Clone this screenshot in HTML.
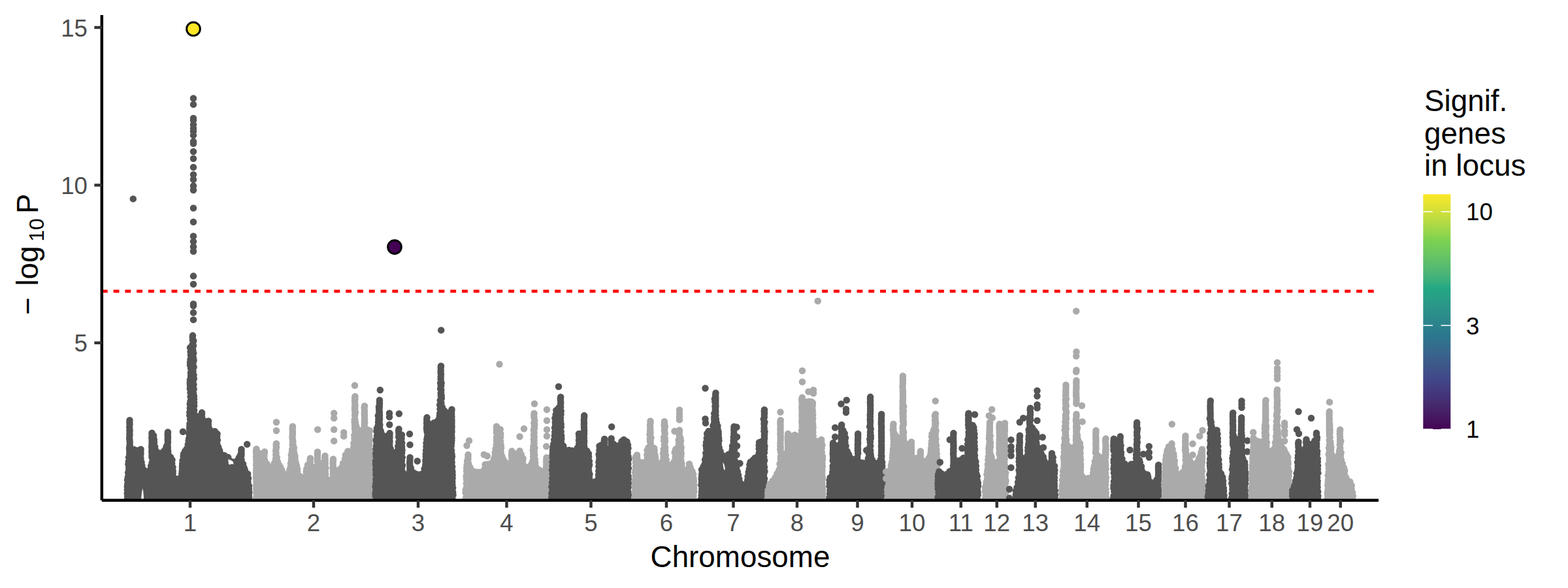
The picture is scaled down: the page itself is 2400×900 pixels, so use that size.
<!DOCTYPE html>
<html><head><meta charset="utf-8"><title>Manhattan plot</title>
<style>html,body{margin:0;padding:0;background:#fff;font-family:"Liberation Sans",sans-serif;}svg{display:block}</style>
</head><body>
<svg width="2400" height="900" viewBox="0 0 2400 900"><clipPath id="pc"><rect x="155.83" y="22.9" width="1954.17" height="742.75"/></clipPath>
<g clip-path="url(#pc)" stroke-linejoin="round" stroke-linecap="round">
<path d="M194.5 773.65L194.5 766.6L195.0 731.6L198.5 676.6L199.0 684.2L200.5 686.5L209.0 689.0L212.5 688.5L215.0 694.1L217.5 714.1L222.0 719.3L225.5 720.2L228.0 719.3L229.5 717.7L230.0 716.6L232.5 701.6L233.5 673.6L234.0 666.2L234.5 665.2L235.0 665.5L237.5 686.6L239.0 688.9L244.5 692.4L248.5 692.0L250.5 690.6L254.5 685.2L255.5 682.6L256.0 682.1L256.5 687.6L258.5 695.6L260.0 698.7L263.5 702.2L264.0 704.4L266.0 726.4L266.5 729.1L268.0 731.4L271.0 732.7L275.0 732.4L277.0 730.9L278.0 729.1L280.0 696.7L288.5 677.3L290.0 646.6L290.5 613.3L291.0 530.0L294.5 524.7L295.0 523.6L295.5 519.6L296.5 532.3L297.0 601.6L297.5 633.2L299.0 635.5L302.0 636.8L305.0 636.2L308.5 633.7L309.0 634.3L310.0 641.6L311.5 643.9L314.5 645.2L319.0 644.0L319.5 644.8L320.0 655.6L321.5 657.9L324.5 659.2L327.5 659.0L331.0 661.7L333.0 664.2L333.5 678.6L334.0 682.1L336.0 686.2L337.5 692.9L339.0 695.2L348.0 697.6L351.0 700.0L353.5 704.7L356.5 706.4L359.5 706.1L366.5 699.7L367.5 697.9L368.5 694.9L372.5 711.6L380.0 726.7L381.0 738.6L382.0 766.6L382.0 773.65ZM198.5 643.2L198.5 676.6M215.5 687.8L215.5 698.1M232.5 662.8L232.5 701.6M257.0 661.5L257.0 689.6M295.0 513.6L295.0 523.6M309.0 631.6L309.0 634.3M369.5 687.8L369.5 699.1" fill="#555555" stroke="#555555" stroke-width="4.5"/>
<path d="M194.3 765.6h.01M195.2 763.5h.01M195.1 759.8h.01M194.7 755.0h.01M194.8 749.7h.01M194.8 744.7h.01M195.2 740.9h.01M195.0 734.5h.01M195.8 730.3h.01M196.1 723.4h.01M197.2 718.6h.01M197.2 714.9h.01M196.4 710.4h.01M196.8 706.5h.01M197.1 700.1h.01M198.1 694.6h.01M198.2 689.8h.01M197.9 686.1h.01M198.9 681.9h.01M198.7 676.9h.01M198.4 681.9h.01M199.1 686.8h.01M205.6 688.3h.01M211.2 689.6h.01M213.6 693.7h.01M214.1 697.8h.01M215.5 701.5h.01M216.6 707.6h.01M217.3 712.8h.01M219.4 718.4h.01M224.5 722.0h.01M229.8 719.1h.01M231.2 713.2h.01M232.6 708.2h.01M232.9 701.3h.01M232.7 695.5h.01M233.6 689.6h.01M234.2 682.6h.01M233.7 678.1h.01M233.6 672.2h.01M234.0 667.1h.01M235.1 666.8h.01M235.8 672.9h.01M236.0 677.3h.01M237.1 683.8h.01M238.0 688.9h.01M243.2 693.5h.01M250.3 691.1h.01M253.5 687.2h.01M254.8 683.2h.01M256.3 687.1h.01M257.2 691.3h.01M258.1 696.6h.01M261.2 699.9h.01M263.5 703.9h.01M263.2 709.4h.01M264.5 715.2h.01M264.7 720.9h.01M264.6 724.6h.01M266.1 731.3h.01M272.9 733.1h.01M277.2 730.7h.01M278.3 725.2h.01M278.6 721.5h.01M279.0 717.4h.01M278.9 713.7h.01M279.2 709.7h.01M279.5 704.9h.01M280.6 698.4h.01M281.1 694.7h.01M283.2 690.4h.01M285.6 687.2h.01M287.7 680.5h.01M288.6 675.3h.01M289.1 671.5h.01M290.0 667.1h.01M289.2 663.0h.01M290.1 656.2h.01M290.3 652.2h.01M290.4 648.6h.01M291.1 641.7h.01M290.3 635.7h.01M290.3 630.9h.01M290.8 624.8h.01M290.7 618.5h.01M291.4 614.3h.01M291.6 607.3h.01M291.5 601.0h.01M290.8 594.9h.01M290.9 589.6h.01M290.7 586.0h.01M290.9 581.5h.01M291.9 575.6h.01M291.9 570.5h.01M292.0 563.5h.01M291.0 558.8h.01M291.0 554.5h.01M291.5 550.3h.01M291.9 543.6h.01M291.6 538.4h.01M291.0 532.1h.01M294.4 527.8h.01M296.2 521.4h.01M295.7 523.1h.01M296.0 529.3h.01M295.3 535.6h.01M296.2 540.5h.01M295.8 547.3h.01M296.6 551.4h.01M295.5 555.5h.01M296.6 561.8h.01M295.5 568.2h.01M296.5 574.0h.01M296.8 579.4h.01M295.6 582.9h.01M296.4 588.7h.01M296.6 595.5h.01M296.0 602.0h.01M296.9 606.3h.01M297.0 610.8h.01M297.1 616.3h.01M297.2 621.3h.01M297.1 628.0h.01M296.9 633.1h.01M302.6 637.4h.01M308.9 634.4h.01M309.1 638.8h.01M309.9 642.5h.01M313.4 644.7h.01M319.1 644.4h.01M318.9 649.4h.01M319.7 654.8h.01M322.8 659.5h.01M328.8 660.2h.01M332.6 664.1h.01M332.2 668.3h.01M332.8 673.6h.01M332.4 679.9h.01M334.4 684.8h.01M336.2 689.6h.01M338.3 695.2h.01M343.7 697.2h.01M349.2 700.1h.01M352.0 705.4h.01M357.5 707.3h.01M364.0 704.1h.01M365.9 700.3h.01M368.2 695.9h.01M369.2 698.1h.01M369.6 704.0h.01M372.1 710.2h.01M373.7 716.1h.01M375.0 719.9h.01M379.2 725.5h.01M380.1 732.1h.01M379.5 737.4h.01M381.1 743.7h.01M380.9 748.7h.01M381.4 753.4h.01M380.9 758.0h.01M381.3 761.6h.01M382.0 766.6h.01M198.5 643.2h.01M198.3 645.8h.01M198.5 649.0h.01M198.2 653.5h.01M198.5 657.9h.01M198.5 660.6h.01M198.4 664.5h.01M198.4 666.9h.01M198.1 671.1h.01M198.5 673.8h.01M215.5 687.8h.01M215.3 690.2h.01M215.5 694.0h.01M215.2 696.1h.01M232.5 662.8h.01M232.5 665.2h.01M232.2 669.6h.01M232.5 673.6h.01M232.5 677.7h.01M232.3 681.9h.01M232.3 684.7h.01M232.4 689.1h.01M232.3 691.4h.01M232.5 694.0h.01M232.5 696.4h.01M232.4 698.9h.01M257.0 661.5h.01M256.7 664.0h.01M256.8 666.7h.01M256.9 669.2h.01M256.9 671.2h.01M256.7 673.3h.01M257.0 676.6h.01M256.5 679.8h.01M256.6 682.1h.01M256.8 685.2h.01M256.9 689.3h.01M295.0 513.6h.01M294.7 516.1h.01M294.9 520.6h.01M309.0 631.6h.01M308.7 634.1h.01M369.5 687.8h.01M369.4 690.2h.01M369.5 693.1h.01M369.5 695.4h.01M280.0 660.8h.01M378.2 680.0h.01M203.8 304.4h.01M296.0 150.5h.01M296.0 159.9h.01M296.0 180.9h.01M296.0 184.1h.01M296.0 190.7h.01M296.0 196.5h.01M296.0 201.2h.01M296.0 207.0h.01M296.0 216.8h.01M296.0 219.8h.01M296.0 232.0h.01M296.0 242.7h.01M296.0 256.0h.01M296.0 267.2h.01M296.0 274.7h.01M296.0 284.5h.01M296.0 291.0h.01M296.0 318.5h.01M296.0 339.8h.01M296.0 361.5h.01M296.0 369.7h.01M296.0 377.8h.01M296.0 384.8h.01M296.0 422.6h.01M296.0 435.0h.01M296.0 465.3h.01M296.0 468.1h.01M296.0 478.6h.01M296.0 489.4h.01" fill="none" stroke="#555555" stroke-width="10.5"/>
<path d="M392.5 773.65L392.5 766.6L393.0 721.6L393.5 698.3L394.0 691.4L398.0 694.9L401.5 695.0L404.0 693.6L405.0 694.7L406.0 704.1L406.5 706.8L408.0 709.1L413.5 712.5L416.5 712.5L418.5 711.4L419.5 710.2L420.0 709.1L422.5 686.6L423.0 686.1L424.0 697.9L426.5 709.6L433.5 723.4L436.5 725.2L439.5 724.9L441.5 723.4L442.5 721.6L445.0 706.6L446.5 685.1L448.5 673.1L451.5 697.8L457.5 726.6L459.0 728.9L462.0 730.2L465.0 729.6L466.5 728.4L467.5 726.6L470.0 712.4L474.5 707.7L475.0 706.7L475.5 707.1L476.0 710.1L477.5 712.4L480.5 713.7L483.5 713.1L485.0 711.9L486.0 710.1L486.5 707.6L487.0 706.7L489.5 708.9L493.0 709.0L495.0 707.9L496.0 706.7L497.5 701.6L499.0 723.0L500.5 731.6L502.0 733.9L505.0 735.2L508.0 734.6L509.5 733.4L510.5 731.6L511.0 723.3L511.5 718.9L514.5 720.2L517.5 719.6L522.5 716.1L523.5 714.3L528.5 694.9L531.5 688.9L534.5 690.2L537.5 689.6L539.0 688.4L540.0 686.6L542.0 671.6L543.0 621.6L544.5 646.6L546.0 655.2L547.5 657.5L550.5 658.8L554.0 658.2L555.5 657.0L556.5 655.2L558.0 646.6L558.5 646.1L559.0 651.8L560.5 654.1L564.0 656.6L566.0 659.2L566.5 694.9L567.0 766.6L567.0 773.65ZM392.5 687.2L392.5 766.6M405.0 691.5L405.0 694.7M423.0 679.0L423.0 686.1M448.0 652.8L448.0 676.1M475.0 701.5L475.0 706.7M486.0 691.8L486.0 710.1M497.5 697.8L497.5 701.6M510.0 702.8L510.0 732.7M543.5 606.8L543.5 629.1M558.0 621.5L558.0 646.6" fill="#AAAAAA" stroke="#AAAAAA" stroke-width="4.5"/>
<path d="M392.3 765.6h.01M392.6 763.5h.01M393.7 757.0h.01M392.9 751.2h.01M392.9 746.8h.01M392.9 741.7h.01M393.0 736.7h.01M394.2 729.8h.01M393.1 724.4h.01M393.3 717.5h.01M393.2 712.8h.01M393.7 707.9h.01M393.5 702.7h.01M393.6 697.4h.01M393.9 693.0h.01M396.5 693.6h.01M399.6 695.3h.01M404.1 694.7h.01M404.4 698.1h.01M405.1 703.9h.01M408.4 710.0h.01M411.4 713.8h.01M416.5 714.0h.01M420.1 708.5h.01M422.0 702.2h.01M422.3 696.5h.01M422.2 690.1h.01M422.6 687.2h.01M422.6 693.7h.01M423.8 700.1h.01M425.0 706.6h.01M427.5 712.1h.01M429.3 715.2h.01M431.4 719.5h.01M434.7 725.2h.01M441.1 725.0h.01M443.4 719.2h.01M444.5 715.8h.01M445.0 709.7h.01M445.9 704.3h.01M446.3 700.6h.01M445.8 696.2h.01M446.9 691.8h.01M447.2 687.6h.01M447.7 680.8h.01M448.5 676.0h.01M447.9 676.2h.01M448.8 681.8h.01M449.9 685.5h.01M449.6 689.9h.01M450.5 694.4h.01M451.5 697.9h.01M451.6 702.4h.01M452.8 708.2h.01M454.0 712.6h.01M455.1 717.6h.01M455.1 721.6h.01M455.8 725.7h.01M461.6 730.0h.01M467.2 729.9h.01M468.7 722.3h.01M469.2 717.9h.01M471.0 711.6h.01M474.7 707.5h.01M475.0 711.8h.01M478.7 714.8h.01M485.4 713.9h.01M486.9 707.3h.01M492.2 709.8h.01M495.4 707.5h.01M497.7 702.8h.01M497.7 705.0h.01M497.8 709.7h.01M498.5 716.2h.01M497.9 722.3h.01M498.2 726.4h.01M499.4 732.9h.01M503.8 735.3h.01M509.9 735.8h.01M510.9 729.3h.01M511.1 724.3h.01M511.3 720.7h.01M515.9 720.3h.01M521.8 716.9h.01M524.4 713.1h.01M525.2 709.0h.01M527.9 702.6h.01M528.9 696.4h.01M532.4 690.8h.01M535.6 691.5h.01M539.5 689.7h.01M541.3 684.2h.01M541.3 678.4h.01M542.9 674.9h.01M542.4 670.8h.01M542.3 666.1h.01M543.5 660.0h.01M543.0 655.6h.01M543.0 651.1h.01M542.6 646.2h.01M542.7 642.1h.01M543.2 635.5h.01M543.9 631.2h.01M543.3 624.2h.01M543.0 623.0h.01M543.0 626.8h.01M543.4 630.6h.01M543.2 635.1h.01M543.3 641.7h.01M544.1 646.6h.01M545.1 651.9h.01M546.7 656.2h.01M549.3 660.7h.01M554.6 658.7h.01M558.0 653.6h.01M557.8 649.2h.01M558.2 647.1h.01M557.7 653.1h.01M562.8 657.9h.01M566.0 659.3h.01M565.0 665.3h.01M565.6 670.4h.01M565.9 673.9h.01M565.3 680.7h.01M565.1 687.2h.01M566.4 691.5h.01M566.0 695.6h.01M565.4 701.5h.01M565.9 707.5h.01M566.2 713.7h.01M566.7 719.1h.01M566.6 725.3h.01M566.1 732.1h.01M566.7 736.6h.01M566.2 741.0h.01M566.8 746.9h.01M566.4 750.7h.01M566.6 756.2h.01M566.3 760.5h.01M566.8 764.0h.01M392.5 687.2h.01M392.0 689.8h.01M392.1 693.4h.01M392.4 696.5h.01M392.0 699.2h.01M392.4 702.9h.01M392.3 705.0h.01M392.4 708.7h.01M392.2 711.3h.01M392.4 715.6h.01M392.4 717.7h.01M392.2 720.8h.01M392.1 723.3h.01M392.3 727.1h.01M392.0 729.6h.01M392.1 732.4h.01M392.4 735.0h.01M392.4 738.9h.01M392.3 743.3h.01M392.4 745.7h.01M392.2 748.8h.01M392.5 753.1h.01M392.5 756.1h.01M392.5 760.6h.01M392.5 762.7h.01M392.1 765.7h.01M405.0 691.5h.01M404.7 694.0h.01M423.0 679.0h.01M422.6 681.5h.01M423.0 684.3h.01M448.0 652.8h.01M447.7 655.2h.01M447.7 657.3h.01M447.9 660.3h.01M448.0 663.1h.01M447.9 665.1h.01M447.5 668.0h.01M447.5 670.3h.01M447.9 672.8h.01M475.0 701.5h.01M474.6 704.0h.01M486.0 691.8h.01M486.0 694.2h.01M485.9 697.4h.01M486.0 701.7h.01M485.6 704.6h.01M485.9 706.7h.01M497.5 697.8h.01M497.2 700.2h.01M510.0 702.8h.01M510.0 705.2h.01M509.6 707.4h.01M509.7 710.0h.01M509.9 714.3h.01M509.5 717.0h.01M509.9 720.5h.01M509.9 724.3h.01M510.0 727.0h.01M509.6 730.9h.01M543.5 606.8h.01M543.0 609.2h.01M543.4 611.3h.01M543.0 614.5h.01M543.4 618.9h.01M543.4 621.5h.01M543.1 624.7h.01M543.1 627.2h.01M558.0 621.5h.01M557.6 624.0h.01M557.8 627.9h.01M557.9 630.8h.01M557.7 633.7h.01M558.0 635.9h.01M557.9 639.7h.01M558.0 641.9h.01M557.9 645.3h.01M423.0 646.2h.01M423.0 659.2h.01M486.2 657.5h.01M511.2 632.5h.01M511.2 640.0h.01M511.2 657.5h.01M511.2 675.0h.01M526.2 662.0h.01M526.2 667.5h.01M543.0 590.0h.01" fill="none" stroke="#AAAAAA" stroke-width="10.5"/>
<path d="M574.5 773.65L574.5 741.6L575.0 676.6L580.0 621.6L581.5 648.7L583.0 661.6L584.5 663.9L590.0 667.5L594.5 667.5L595.0 667.4L595.5 671.1L596.5 682.4L599.0 689.5L601.5 691.6L605.0 691.8L607.0 690.7L608.0 689.5L609.0 686.4L611.0 664.4L611.5 663.9L614.5 665.2L615.0 665.2L616.0 710.1L616.5 721.6L618.0 723.9L621.0 725.2L624.5 724.9L626.5 723.4L627.5 721.6L628.0 713.6L629.5 718.0L634.5 724.3L643.0 726.5L645.5 725.6L647.0 724.0L650.0 716.6L654.5 646.6L658.0 648.6L661.0 648.3L663.0 646.8L664.5 644.9L667.5 644.9L669.5 643.8L670.5 642.6L671.0 641.5L671.5 638.7L673.0 621.6L674.5 584.1L675.0 584.1L676.0 614.1L676.5 622.1L679.5 627.9L682.0 629.9L688.0 631.5L690.0 630.9L693.5 757.6L693.5 773.65ZM581.0 612.5L581.0 640.6M596.5 663.1L596.5 682.4M610.5 656.8L610.5 669.9M627.5 700.2L627.5 721.6M653.5 639.1L653.5 659.1M675.0 560.2L675.0 584.1M691.5 626.8L691.5 681.6" fill="#555555" stroke="#555555" stroke-width="4.5"/>
<path d="M575.6 765.6h.01M574.7 758.7h.01M574.5 754.9h.01M575.3 749.7h.01M574.6 744.6h.01M575.2 739.6h.01M575.4 733.8h.01M575.3 727.3h.01M575.6 723.4h.01M575.2 718.9h.01M575.5 714.1h.01M574.9 709.9h.01M574.9 705.5h.01M575.4 698.9h.01M575.2 694.3h.01M575.4 687.3h.01M575.9 683.0h.01M576.3 677.2h.01M575.8 673.4h.01M576.9 667.1h.01M576.5 660.3h.01M576.9 655.8h.01M578.6 651.8h.01M579.0 646.3h.01M579.3 641.5h.01M578.8 636.3h.01M580.5 630.2h.01M580.2 626.3h.01M579.9 622.6h.01M580.2 627.4h.01M580.4 631.6h.01M580.1 637.2h.01M581.1 641.4h.01M580.6 646.0h.01M581.4 650.2h.01M581.1 654.4h.01M582.8 659.7h.01M583.7 663.5h.01M587.7 667.4h.01M591.8 667.7h.01M595.0 670.1h.01M595.6 674.6h.01M596.2 681.4h.01M597.7 686.7h.01M599.3 692.0h.01M607.1 691.2h.01M609.7 687.5h.01M609.3 683.0h.01M610.3 676.4h.01M610.8 670.0h.01M611.4 664.7h.01M615.0 665.8h.01M614.5 671.2h.01M615.2 677.9h.01M615.1 683.6h.01M615.5 688.8h.01M615.1 693.3h.01M615.7 700.1h.01M614.9 705.3h.01M616.0 712.2h.01M615.0 716.2h.01M616.7 723.1h.01M619.3 726.7h.01M625.9 726.1h.01M628.6 720.1h.01M628.8 716.1h.01M628.2 715.5h.01M630.6 721.8h.01M634.2 724.3h.01M638.8 726.3h.01M643.7 726.3h.01M648.1 724.1h.01M649.6 717.6h.01M651.2 712.3h.01M651.6 708.6h.01M651.4 704.7h.01M651.8 699.3h.01M651.8 694.7h.01M652.1 689.2h.01M652.5 683.4h.01M652.5 678.3h.01M653.3 672.7h.01M654.0 668.4h.01M653.9 662.2h.01M654.2 658.1h.01M654.1 654.2h.01M654.4 649.2h.01M656.2 648.5h.01M660.2 649.6h.01M664.2 647.3h.01M669.0 645.1h.01M671.5 641.9h.01M672.9 637.0h.01M673.1 633.0h.01M673.5 626.1h.01M673.2 619.7h.01M673.8 612.7h.01M674.8 605.9h.01M674.7 601.8h.01M674.1 595.1h.01M675.1 590.4h.01M675.6 586.3h.01M674.1 585.9h.01M674.7 589.9h.01M675.3 596.6h.01M675.1 601.0h.01M675.7 605.6h.01M675.8 609.8h.01M675.4 616.6h.01M676.9 623.1h.01M680.0 628.5h.01M684.5 631.8h.01M690.0 632.9h.01M689.5 635.7h.01M690.3 642.3h.01M689.8 649.3h.01M689.7 654.2h.01M689.5 658.6h.01M690.6 664.1h.01M690.7 670.3h.01M690.3 674.4h.01M690.3 678.1h.01M690.7 682.4h.01M691.0 689.4h.01M691.5 695.2h.01M691.9 698.7h.01M691.3 702.7h.01M691.6 707.7h.01M692.2 714.3h.01M691.7 718.7h.01M692.5 722.2h.01M692.6 727.0h.01M692.6 731.7h.01M692.3 737.3h.01M692.4 741.5h.01M693.1 746.6h.01M693.2 753.4h.01M693.5 757.4h.01M692.4 763.2h.01M581.0 612.5h.01M580.9 615.0h.01M581.0 617.6h.01M580.8 621.2h.01M580.7 624.1h.01M580.5 627.2h.01M580.9 631.0h.01M581.0 635.3h.01M580.9 638.6h.01M596.5 663.1h.01M596.5 665.6h.01M596.5 669.5h.01M596.0 672.9h.01M596.5 675.3h.01M596.3 678.8h.01M610.5 656.8h.01M610.1 659.3h.01M610.4 661.7h.01M610.5 664.5h.01M610.2 668.7h.01M627.5 700.2h.01M627.5 702.8h.01M627.2 706.9h.01M627.2 710.0h.01M627.4 713.2h.01M627.4 715.4h.01M627.4 717.5h.01M627.2 721.4h.01M653.5 639.1h.01M653.2 641.6h.01M653.3 644.3h.01M653.1 647.4h.01M653.4 650.7h.01M653.0 654.3h.01M653.1 656.8h.01M653.4 658.9h.01M675.0 560.2h.01M674.7 562.8h.01M674.7 567.1h.01M674.6 569.9h.01M674.9 572.8h.01M674.7 577.0h.01M674.7 580.8h.01M691.5 626.8h.01M691.3 629.2h.01M691.2 633.3h.01M691.4 637.5h.01M691.3 641.3h.01M691.5 644.1h.01M691.5 647.6h.01M691.5 651.9h.01M691.5 654.0h.01M691.4 658.3h.01M691.5 660.7h.01M691.2 662.8h.01M691.2 666.3h.01M691.5 670.2h.01M691.4 673.7h.01M691.1 677.7h.01M596.0 632.5h.01M596.0 638.3h.01M596.2 650.0h.01M581.8 597.0h.01M610.8 633.2h.01M627.0 664.2h.01M627.5 680.8h.01M638.8 705.8h.01M675.2 505.4h.01" fill="none" stroke="#555555" stroke-width="10.5"/>
<path d="M712.0 773.65L712.0 766.6L714.0 717.7L715.5 694.3L716.0 694.7L716.5 697.6L717.5 711.6L725.5 721.4L729.0 722.6L732.5 721.3L736.0 722.6L739.0 721.6L740.5 720.0L741.5 717.1L742.5 710.5L750.5 709.9L753.0 707.9L756.0 702.1L758.5 688.1L760.5 654.8L761.0 654.2L761.5 654.1L764.5 655.7L766.0 657.2L766.5 664.6L767.5 696.6L771.5 702.4L774.0 709.5L776.5 711.6L780.0 711.8L782.0 710.7L783.0 709.5L783.5 708.4L784.0 705.6L785.0 694.6L788.5 695.2L794.0 692.0L800.0 697.8L802.5 711.6L804.0 713.9L807.0 715.2L810.0 714.6L811.5 713.4L815.0 706.6L817.5 643.0L819.0 707.3L823.0 717.7L825.5 719.9L832.5 720.0L833.5 719.6L834.0 732.9L834.0 773.65ZM760.0 652.8L760.0 663.4M783.5 690.6L783.5 708.4M795.5 690.2L795.5 694.0M817.5 632.8L817.5 643.0M836.5 700.5L836.5 765.6" fill="#AAAAAA" stroke="#AAAAAA" stroke-width="4.5"/>
<path d="M712.0 765.6h.01M713.4 761.1h.01M712.6 754.2h.01M712.7 750.0h.01M713.9 746.4h.01M713.8 740.1h.01M714.0 733.7h.01M713.6 729.2h.01M714.6 725.4h.01M714.1 721.1h.01M714.1 716.1h.01M714.6 711.8h.01M715.1 705.8h.01M716.4 701.2h.01M716.5 696.0h.01M716.5 698.0h.01M716.5 703.0h.01M717.0 709.2h.01M719.1 714.8h.01M721.2 718.6h.01M723.7 721.5h.01M728.4 722.4h.01M732.8 722.8h.01M738.9 721.7h.01M742.0 717.5h.01M742.5 711.1h.01M747.1 710.6h.01M753.0 708.2h.01M756.2 702.1h.01M757.6 698.0h.01M757.7 692.7h.01M758.6 687.0h.01M759.7 680.8h.01M760.0 674.6h.01M759.9 669.8h.01M761.0 665.0h.01M761.3 661.2h.01M760.5 657.6h.01M761.0 656.0h.01M765.7 657.3h.01M766.3 663.9h.01M766.1 669.0h.01M766.0 675.2h.01M766.7 680.9h.01M767.1 685.5h.01M766.6 692.0h.01M768.2 697.9h.01M770.1 702.7h.01M773.1 707.1h.01M774.8 712.5h.01M780.2 711.9h.01M784.3 709.1h.01M784.4 702.3h.01M784.8 698.3h.01M785.8 695.7h.01M790.0 694.8h.01M794.5 694.2h.01M797.8 695.8h.01M800.6 701.6h.01M800.1 706.6h.01M802.0 713.1h.01M806.9 715.4h.01M811.9 712.8h.01M814.1 709.2h.01M815.4 705.7h.01M816.1 699.5h.01M816.2 694.2h.01M815.8 689.1h.01M816.3 683.5h.01M817.3 677.4h.01M816.9 672.4h.01M817.0 666.3h.01M817.6 662.0h.01M817.9 655.4h.01M818.3 649.5h.01M818.2 643.6h.01M817.4 647.6h.01M817.7 653.3h.01M816.9 658.3h.01M817.3 664.2h.01M817.7 668.6h.01M817.6 673.7h.01M817.6 678.6h.01M818.4 685.4h.01M817.7 691.2h.01M818.3 696.0h.01M818.9 702.9h.01M819.3 708.3h.01M820.2 714.6h.01M824.1 718.7h.01M829.1 720.9h.01M833.1 721.2h.01M832.8 727.0h.01M833.6 732.3h.01M833.9 739.1h.01M833.7 745.0h.01M833.9 751.1h.01M833.7 758.1h.01M833.8 761.8h.01M760.0 652.8h.01M760.0 655.2h.01M759.9 658.3h.01M759.9 662.0h.01M783.5 690.6h.01M783.4 693.1h.01M783.0 696.9h.01M783.4 700.3h.01M783.4 704.3h.01M783.5 706.8h.01M795.5 690.2h.01M795.1 692.8h.01M817.5 632.8h.01M817.3 635.2h.01M817.4 638.7h.01M836.5 700.5h.01M836.4 703.0h.01M836.1 706.6h.01M836.3 710.6h.01M836.3 713.4h.01M836.1 715.7h.01M836.1 718.6h.01M836.4 721.2h.01M836.4 723.9h.01M836.5 726.3h.01M836.4 730.1h.01M836.4 732.8h.01M836.4 736.0h.01M836.2 739.5h.01M836.1 742.5h.01M836.5 746.6h.01M836.1 750.7h.01M836.5 754.6h.01M836.2 758.7h.01M836.5 760.7h.01M836.2 765.1h.01M714.5 682.0h.01M718.0 674.5h.01M740.8 695.8h.01M745.8 698.0h.01M764.5 557.5h.01M802.0 656.2h.01M795.5 668.2h.01M818.0 618.0h.01M837.0 627.0h.01M837.0 643.8h.01M837.0 657.5h.01M837.0 667.5h.01M836.2 683.2h.01" fill="none" stroke="#AAAAAA" stroke-width="10.5"/>
<path d="M844.2 773.65L844.2 751.6L845.7 688.6L846.2 680.7L848.2 675.4L849.2 643.3L850.2 631.0L851.7 625.5L852.2 624.6L855.2 623.1L856.2 621.9L856.7 620.8L857.7 612.4L858.2 610.4L858.7 621.6L859.7 677.2L862.7 683.4L867.2 688.5L877.7 690.2L880.2 688.9L884.2 683.2L884.7 682.1L885.2 677.3L885.7 664.3L886.2 662.6L889.7 663.6L892.2 662.6L893.7 661.0L894.2 684.9L899.2 690.8L901.7 695.2L902.7 731.7L904.2 734.0L908.7 736.6L912.2 736.3L914.2 734.9L915.7 732.9L916.2 731.8L916.7 682.7L924.7 676.8L925.7 684.9L927.2 687.2L930.2 688.6L933.7 688.2L935.7 686.7L936.7 684.9L937.2 677.7L939.7 679.9L945.7 681.8L948.7 680.9L950.2 679.3L950.7 678.2L951.7 672.8L956.2 672.8L959.7 675.6L961.7 679.9L962.2 702.9L962.2 773.65ZM858.2 607.8L858.2 610.4M894.2 636.1L894.2 684.9M925.2 672.0L925.2 681.4M935.7 671.2L935.7 686.7" fill="#555555" stroke="#555555" stroke-width="4.5"/>
<path d="M844.2 765.6h.01M844.3 761.7h.01M844.4 755.4h.01M845.3 751.4h.01M844.4 745.1h.01M845.1 738.5h.01M845.4 732.3h.01M845.7 725.7h.01M845.1 719.2h.01M845.6 713.3h.01M845.6 707.2h.01M845.9 700.6h.01M845.6 696.2h.01M846.0 692.2h.01M846.1 688.5h.01M846.4 684.5h.01M847.3 679.6h.01M848.2 673.1h.01M848.9 666.7h.01M849.3 661.2h.01M849.1 654.8h.01M850.2 649.8h.01M849.8 646.1h.01M849.4 640.3h.01M850.6 634.8h.01M851.3 628.1h.01M855.4 623.9h.01M858.1 618.6h.01M858.2 615.0h.01M857.9 611.4h.01M858.2 617.9h.01M858.2 623.1h.01M858.7 629.3h.01M858.5 634.3h.01M858.0 639.8h.01M858.1 644.3h.01M858.7 649.2h.01M858.8 653.6h.01M858.7 660.6h.01M859.2 666.8h.01M859.3 671.4h.01M859.0 677.0h.01M862.3 682.6h.01M864.8 688.4h.01M870.9 689.1h.01M875.4 689.8h.01M880.2 691.1h.01M883.7 685.7h.01M886.2 679.5h.01M886.0 673.7h.01M886.3 668.0h.01M886.0 664.0h.01M890.8 664.5h.01M892.8 662.1h.01M893.7 665.9h.01M892.9 669.6h.01M893.3 676.2h.01M893.1 681.0h.01M895.0 687.3h.01M898.3 690.3h.01M900.9 694.4h.01M901.1 699.2h.01M901.9 705.9h.01M902.1 711.4h.01M901.2 715.3h.01M901.2 720.9h.01M902.5 725.9h.01M902.0 730.8h.01M905.7 737.4h.01M911.7 737.0h.01M915.5 734.8h.01M916.3 730.3h.01M916.2 726.8h.01M916.3 720.9h.01M916.4 714.0h.01M916.5 707.5h.01M917.3 703.9h.01M917.3 699.6h.01M916.6 695.4h.01M917.4 689.2h.01M917.5 682.7h.01M920.4 681.3h.01M925.0 677.5h.01M925.3 683.4h.01M929.0 689.6h.01M933.0 688.3h.01M937.7 684.4h.01M937.2 680.6h.01M939.5 679.9h.01M945.9 682.6h.01M949.4 680.8h.01M951.6 675.6h.01M954.8 672.9h.01M959.5 676.1h.01M961.0 681.3h.01M961.5 686.3h.01M960.7 692.5h.01M961.5 698.8h.01M962.1 703.3h.01M961.4 710.2h.01M961.9 716.6h.01M960.9 722.2h.01M961.6 728.6h.01M961.8 733.2h.01M961.9 739.8h.01M961.6 745.7h.01M961.2 752.3h.01M962.2 756.8h.01M961.8 761.2h.01M858.2 607.8h.01M857.8 610.3h.01M894.2 636.1h.01M894.2 638.6h.01M893.8 642.7h.01M894.0 646.8h.01M893.8 649.5h.01M893.9 653.5h.01M894.1 657.8h.01M894.0 660.0h.01M894.1 664.0h.01M893.7 667.9h.01M893.9 670.5h.01M894.0 674.2h.01M894.1 676.7h.01M893.8 680.6h.01M894.2 683.7h.01M925.2 672.0h.01M924.8 674.5h.01M924.9 677.1h.01M924.8 681.3h.01M935.7 671.2h.01M935.5 673.7h.01M935.6 677.2h.01M935.6 679.6h.01M935.6 683.4h.01M855.0 591.8h.01M936.2 653.2h.01" fill="none" stroke="#555555" stroke-width="10.5"/>
<path d="M971.0 773.65L971.0 766.6L972.0 701.6L973.0 698.4L977.5 706.0L981.0 707.9L987.5 706.3L989.0 705.1L990.0 703.3L990.5 687.8L991.0 684.9L994.0 682.8L995.0 681.0L995.5 659.8L996.0 680.6L997.5 682.9L1002.0 686.6L1002.5 688.3L1004.5 706.3L1006.0 708.6L1009.0 709.9L1012.0 709.3L1013.5 708.1L1014.5 706.3L1016.0 677.4L1017.0 649.0L1017.5 652.1L1018.5 693.3L1020.0 704.9L1021.5 709.0L1024.0 711.2L1027.5 711.4L1029.5 710.2L1030.5 709.0L1031.5 706.7L1032.0 704.7L1033.0 687.4L1033.5 686.0L1036.0 684.6L1037.0 683.4L1037.5 682.3L1038.0 679.4L1039.5 663.4L1040.0 663.8L1041.5 666.4L1042.0 669.0L1043.5 709.3L1044.5 714.7L1046.0 717.0L1049.0 718.3L1052.0 717.7L1053.5 716.5L1054.5 714.7L1055.0 712.7L1055.5 712.0L1060.5 719.6L1062.5 738.3L1062.5 773.65ZM975.0 696.5L975.0 701.7M995.5 644.4L995.5 659.8M1017.0 645.3L1017.0 649.0M1040.0 658.4L1040.0 663.8M1055.0 710.2L1055.0 712.7" fill="#AAAAAA" stroke="#AAAAAA" stroke-width="4.5"/>
<path d="M970.7 765.6h.01M971.1 762.2h.01M972.4 758.6h.01M971.2 753.8h.01M972.2 748.1h.01M972.0 744.0h.01M971.9 739.3h.01M971.5 735.7h.01M972.6 728.8h.01M972.2 723.6h.01M972.6 719.2h.01M973.0 714.2h.01M972.9 708.0h.01M972.3 701.2h.01M973.2 699.1h.01M975.5 702.6h.01M976.7 706.2h.01M983.4 708.0h.01M990.7 705.4h.01M990.7 701.1h.01M990.3 696.2h.01M990.6 689.3h.01M992.4 685.3h.01M995.8 678.9h.01M995.6 674.0h.01M996.5 670.0h.01M995.6 663.0h.01M995.3 660.2h.01M994.5 665.0h.01M994.8 671.6h.01M994.9 675.3h.01M995.5 681.7h.01M1001.2 686.0h.01M1001.7 689.7h.01M1002.6 696.4h.01M1003.3 700.9h.01M1004.8 706.9h.01M1008.2 709.9h.01M1012.6 709.8h.01M1014.7 706.0h.01M1015.5 702.1h.01M1015.7 698.5h.01M1015.1 694.3h.01M1015.6 687.6h.01M1016.9 680.9h.01M1016.2 674.2h.01M1016.3 669.2h.01M1017.6 662.4h.01M1017.1 656.7h.01M1017.9 652.1h.01M1016.6 651.3h.01M1017.4 655.1h.01M1016.9 658.8h.01M1017.7 664.3h.01M1017.8 670.8h.01M1018.0 675.7h.01M1017.2 680.2h.01M1018.2 684.9h.01M1018.2 690.1h.01M1018.9 696.7h.01M1019.8 703.6h.01M1021.4 710.5h.01M1025.8 712.1h.01M1030.0 710.0h.01M1032.0 706.2h.01M1033.7 699.2h.01M1032.7 692.4h.01M1034.1 688.0h.01M1035.6 686.4h.01M1039.0 682.0h.01M1039.1 678.3h.01M1038.6 673.6h.01M1039.9 670.2h.01M1039.5 664.8h.01M1040.1 667.2h.01M1041.5 670.6h.01M1042.1 674.6h.01M1041.6 680.8h.01M1042.6 685.0h.01M1042.1 688.8h.01M1042.7 694.0h.01M1042.4 698.2h.01M1042.3 704.2h.01M1043.4 709.7h.01M1043.3 713.6h.01M1046.2 718.7h.01M1050.6 719.8h.01M1055.2 716.4h.01M1056.3 714.4h.01M1057.4 717.9h.01M1059.6 721.8h.01M1061.1 726.1h.01M1061.6 732.5h.01M1062.0 736.5h.01M1062.5 742.1h.01M1062.1 747.4h.01M1062.4 752.7h.01M1061.5 758.7h.01M1062.3 765.2h.01M975.0 696.5h.01M974.9 699.0h.01M995.5 644.4h.01M995.5 646.9h.01M995.0 651.1h.01M995.3 654.3h.01M995.3 657.6h.01M995.0 659.7h.01M1017.0 645.3h.01M1017.0 647.8h.01M1040.0 658.4h.01M1039.9 660.9h.01M1055.0 710.2h.01M1055.0 712.8h.01M1032.5 660.0h.01M1040.0 627.5h.01M1040.0 632.5h.01M1040.0 637.5h.01M1040.0 642.5h.01" fill="none" stroke="#AAAAAA" stroke-width="10.5"/>
<path d="M1073.0 773.65L1073.0 766.6L1073.5 733.3L1074.0 716.5L1077.5 710.4L1080.0 696.6L1081.0 666.6L1081.5 660.3L1087.0 659.9L1089.0 658.4L1090.0 656.6L1092.5 646.6L1094.5 606.6L1096.0 642.2L1098.0 646.6L1100.0 664.1L1101.0 682.1L1101.5 687.4L1104.0 694.5L1106.5 696.9L1110.0 697.5L1114.0 695.3L1117.5 694.6L1119.0 693.4L1120.0 691.6L1123.0 665.6L1123.5 667.2L1125.0 706.6L1130.0 721.6L1133.0 736.6L1134.5 738.9L1137.5 740.2L1140.5 739.6L1142.0 738.4L1143.0 736.6L1147.0 709.6L1147.5 707.4L1154.0 700.9L1158.5 699.3L1160.0 697.7L1160.5 696.6L1162.0 676.6L1162.5 675.4L1163.0 675.1L1166.0 674.4L1167.5 673.2L1168.5 671.4L1169.0 665.5L1170.0 641.2L1170.5 690.4L1170.5 773.65ZM1095.5 601.5L1095.5 633.4M1123.5 652.9L1123.5 667.2M1170.0 627.2L1170.0 641.2" fill="#555555" stroke="#555555" stroke-width="4.5"/>
<path d="M1072.2 765.6h.01M1073.1 763.4h.01M1073.7 757.8h.01M1074.0 752.5h.01M1074.3 748.6h.01M1073.4 742.6h.01M1073.9 738.7h.01M1073.7 733.4h.01M1074.0 729.5h.01M1074.3 725.5h.01M1074.0 719.0h.01M1076.5 714.5h.01M1078.6 710.5h.01M1079.1 703.7h.01M1080.7 699.0h.01M1080.4 693.5h.01M1081.2 686.7h.01M1080.6 682.0h.01M1081.0 677.3h.01M1081.8 670.4h.01M1082.2 663.8h.01M1084.5 660.1h.01M1090.7 658.9h.01M1091.4 651.7h.01M1093.2 647.0h.01M1093.2 642.1h.01M1093.3 638.4h.01M1093.2 633.1h.01M1094.7 629.2h.01M1094.9 622.9h.01M1095.0 617.2h.01M1095.4 610.6h.01M1095.2 607.0h.01M1093.9 610.7h.01M1094.3 615.1h.01M1094.5 621.9h.01M1094.8 626.2h.01M1094.3 631.3h.01M1095.5 635.7h.01M1095.9 641.5h.01M1096.7 646.8h.01M1098.4 651.9h.01M1098.6 657.1h.01M1099.6 661.0h.01M1099.8 664.9h.01M1100.1 669.9h.01M1100.5 674.2h.01M1099.8 679.7h.01M1100.7 685.3h.01M1102.6 690.8h.01M1105.0 696.4h.01M1110.9 698.2h.01M1115.1 695.5h.01M1119.0 693.7h.01M1120.7 688.6h.01M1121.0 683.0h.01M1122.7 678.4h.01M1122.6 674.1h.01M1122.8 668.8h.01M1123.4 669.3h.01M1123.7 675.5h.01M1122.9 679.2h.01M1124.1 684.2h.01M1123.9 689.1h.01M1124.5 695.1h.01M1123.5 699.5h.01M1124.9 705.5h.01M1125.8 710.1h.01M1127.2 715.8h.01M1128.9 721.9h.01M1130.1 727.1h.01M1131.3 733.1h.01M1132.6 738.5h.01M1139.2 742.0h.01M1143.4 738.9h.01M1144.2 735.0h.01M1144.6 729.5h.01M1145.7 722.7h.01M1146.8 717.8h.01M1147.4 711.3h.01M1148.6 707.2h.01M1152.7 704.0h.01M1155.5 701.0h.01M1160.3 698.1h.01M1161.7 693.4h.01M1161.7 686.9h.01M1161.7 681.8h.01M1162.0 677.3h.01M1166.1 675.5h.01M1169.8 672.5h.01M1169.9 667.2h.01M1170.5 660.8h.01M1169.7 656.5h.01M1169.6 649.8h.01M1170.4 646.2h.01M1168.8 641.6h.01M1169.5 647.8h.01M1169.6 654.8h.01M1169.4 660.1h.01M1170.0 664.9h.01M1170.0 670.5h.01M1169.6 677.3h.01M1170.4 682.7h.01M1170.1 687.5h.01M1169.9 692.9h.01M1169.3 699.5h.01M1170.1 704.7h.01M1169.2 710.4h.01M1170.0 715.1h.01M1170.4 721.5h.01M1169.2 726.1h.01M1170.0 732.5h.01M1169.4 736.4h.01M1169.5 742.3h.01M1169.4 749.2h.01M1170.4 754.2h.01M1170.0 758.7h.01M1170.4 764.0h.01M1095.5 601.5h.01M1095.2 604.0h.01M1095.4 607.5h.01M1095.2 612.0h.01M1095.4 614.1h.01M1095.4 618.1h.01M1095.5 621.8h.01M1095.1 624.6h.01M1095.2 628.0h.01M1095.3 630.5h.01M1123.5 652.9h.01M1123.4 655.4h.01M1123.3 659.0h.01M1123.3 663.5h.01M1123.5 666.6h.01M1170.0 627.2h.01M1169.7 629.8h.01M1170.0 632.0h.01M1169.8 634.4h.01M1169.8 638.5h.01M1079.5 641.2h.01M1080.0 647.5h.01M1079.5 594.2h.01M1127.5 653.8h.01M1128.0 668.8h.01M1128.0 682.5h.01M1127.5 696.2h.01M1132.5 709.2h.01" fill="none" stroke="#555555" stroke-width="10.5"/>
<path d="M1173.8 773.65L1173.8 766.6L1176.2 744.4L1179.2 739.4L1184.2 734.2L1188.2 725.3L1191.8 720.5L1192.2 719.4L1194.2 699.4L1194.8 684.1L1195.2 691.1L1196.8 693.4L1199.8 694.7L1202.8 694.1L1204.2 692.9L1207.2 687.1L1208.8 667.1L1212.2 667.7L1216.2 665.3L1220.2 667.7L1223.2 667.4L1225.2 665.9L1226.2 664.1L1228.8 646.6L1229.2 621.6L1229.8 615.0L1232.8 615.0L1238.8 612.8L1244.2 613.1L1244.8 671.6L1246.2 673.9L1249.2 675.2L1255.8 674.9L1256.8 674.6L1258.8 681.6L1259.2 713.3L1259.2 773.65ZM1194.8 643.2L1194.8 684.1M1206.2 664.0L1206.2 689.2M1227.8 608.6L1227.8 653.6M1257.2 672.9L1257.2 676.4" fill="#AAAAAA" stroke="#AAAAAA" stroke-width="4.5"/>
<path d="M1173.7 765.6h.01M1175.0 764.1h.01M1175.4 759.5h.01M1175.2 754.7h.01M1175.6 750.3h.01M1177.3 744.2h.01M1179.5 740.0h.01M1182.4 736.2h.01M1186.5 731.0h.01M1189.3 724.9h.01M1192.2 720.0h.01M1193.8 716.4h.01M1193.5 709.9h.01M1194.9 703.3h.01M1194.9 698.7h.01M1195.0 691.8h.01M1194.9 685.0h.01M1194.2 688.1h.01M1195.6 692.3h.01M1201.6 695.2h.01M1205.8 690.3h.01M1207.6 686.5h.01M1208.9 682.4h.01M1208.5 677.9h.01M1208.8 674.0h.01M1209.0 669.1h.01M1210.4 667.5h.01M1216.4 665.7h.01M1219.9 667.6h.01M1224.3 666.9h.01M1227.1 664.0h.01M1227.0 659.2h.01M1227.8 653.3h.01M1229.5 649.1h.01M1229.2 645.0h.01M1229.9 638.6h.01M1229.3 634.5h.01M1229.4 628.5h.01M1229.4 621.6h.01M1230.0 615.9h.01M1234.4 615.2h.01M1238.4 614.4h.01M1242.1 615.1h.01M1244.0 616.7h.01M1243.7 621.0h.01M1243.3 625.3h.01M1243.9 629.2h.01M1244.2 634.6h.01M1244.2 640.8h.01M1244.0 646.6h.01M1244.3 651.2h.01M1244.5 655.0h.01M1244.4 661.5h.01M1244.7 667.3h.01M1245.0 672.8h.01M1249.6 675.6h.01M1253.4 675.4h.01M1256.9 675.4h.01M1258.4 681.3h.01M1257.7 686.1h.01M1257.8 692.3h.01M1259.0 698.8h.01M1259.1 703.3h.01M1258.5 709.2h.01M1258.9 713.9h.01M1258.5 719.7h.01M1258.2 724.1h.01M1258.6 728.8h.01M1259.2 732.9h.01M1258.4 739.6h.01M1259.2 745.6h.01M1259.2 749.3h.01M1259.0 753.5h.01M1259.2 758.3h.01M1258.6 762.9h.01M1194.8 643.2h.01M1194.4 645.7h.01M1194.4 649.1h.01M1194.6 651.8h.01M1194.6 655.5h.01M1194.4 657.5h.01M1194.7 661.4h.01M1194.4 663.5h.01M1194.7 667.0h.01M1194.7 669.6h.01M1194.7 673.6h.01M1194.4 677.9h.01M1194.5 680.1h.01M1194.4 683.1h.01M1206.2 664.0h.01M1206.2 666.5h.01M1205.8 668.7h.01M1205.8 671.8h.01M1205.9 675.5h.01M1206.0 679.6h.01M1206.2 682.7h.01M1206.1 686.5h.01M1227.8 608.6h.01M1227.3 611.1h.01M1227.4 613.4h.01M1227.5 615.5h.01M1227.7 619.5h.01M1227.3 622.9h.01M1227.5 626.5h.01M1227.7 629.1h.01M1227.6 632.0h.01M1227.7 634.5h.01M1227.5 636.8h.01M1227.7 640.5h.01M1227.6 643.1h.01M1227.3 646.2h.01M1227.7 649.1h.01M1227.7 653.3h.01M1257.2 672.9h.01M1257.2 675.4h.01M1194.5 630.8h.01M1228.0 567.5h.01M1228.0 584.5h.01M1237.5 599.5h.01M1245.0 597.0h.01M1245.0 602.0h.01M1251.8 460.8h.01" fill="none" stroke="#AAAAAA" stroke-width="10.5"/>
<path d="M1269.2 773.65L1269.2 766.6L1269.8 731.9L1273.2 727.7L1273.8 726.6L1277.2 682.6L1277.8 680.2L1285.2 680.0L1287.2 678.9L1288.2 677.7L1288.8 676.6L1289.8 658.0L1293.8 662.2L1294.8 681.6L1295.2 687.1L1302.2 700.9L1305.2 702.7L1308.2 702.4L1312.8 698.4L1313.2 697.7L1313.8 704.1L1315.2 706.4L1322.2 708.9L1325.2 708.0L1327.2 705.6L1329.8 697.5L1332.2 651.6L1332.8 657.6L1333.8 701.6L1335.2 703.9L1340.8 707.4L1343.8 707.4L1345.8 706.2L1347.2 704.3L1349.2 697.5L1349.8 700.2L1351.2 721.6L1351.2 773.65ZM1275.2 677.9L1275.2 708.6M1288.2 650.2L1288.2 677.7M1313.2 664.0L1313.2 697.7M1332.2 607.6L1332.2 651.6M1349.2 634.0L1349.2 697.5" fill="#555555" stroke="#555555" stroke-width="4.5"/>
<path d="M1268.7 765.6h.01M1269.4 761.4h.01M1270.0 755.6h.01M1270.4 750.5h.01M1269.6 744.0h.01M1269.9 739.5h.01M1269.7 735.3h.01M1270.6 731.2h.01M1274.2 726.3h.01M1274.3 722.4h.01M1274.8 717.3h.01M1274.8 713.2h.01M1276.5 709.7h.01M1275.6 703.5h.01M1277.4 697.6h.01M1276.5 692.1h.01M1277.3 686.9h.01M1277.8 682.8h.01M1278.7 682.3h.01M1284.4 681.2h.01M1289.5 675.8h.01M1289.2 671.4h.01M1289.3 667.4h.01M1290.6 661.2h.01M1290.5 659.0h.01M1292.8 663.5h.01M1294.1 670.2h.01M1293.5 676.4h.01M1294.6 682.5h.01M1294.2 686.7h.01M1296.8 691.0h.01M1299.2 695.8h.01M1302.5 701.4h.01M1306.0 703.6h.01M1311.8 701.3h.01M1312.3 700.3h.01M1315.1 707.2h.01M1320.2 708.4h.01M1324.9 709.2h.01M1328.1 706.3h.01M1328.9 701.8h.01M1329.9 695.0h.01M1330.5 691.4h.01M1331.1 687.3h.01M1331.5 683.8h.01M1331.8 677.3h.01M1331.3 672.3h.01M1331.9 666.5h.01M1332.0 661.5h.01M1332.7 656.5h.01M1331.2 653.2h.01M1332.5 657.2h.01M1332.3 662.3h.01M1332.8 667.0h.01M1332.8 670.8h.01M1331.9 675.9h.01M1332.3 682.6h.01M1332.2 689.5h.01M1332.6 695.2h.01M1333.0 698.9h.01M1335.2 704.3h.01M1338.9 708.7h.01M1345.5 707.8h.01M1347.9 703.3h.01M1349.4 698.2h.01M1349.1 702.4h.01M1350.2 707.4h.01M1350.3 713.2h.01M1350.7 718.7h.01M1350.7 724.0h.01M1351.2 728.9h.01M1350.2 733.0h.01M1351.2 738.5h.01M1351.1 745.0h.01M1350.7 748.8h.01M1350.8 753.2h.01M1351.1 758.6h.01M1351.2 764.1h.01M1275.2 677.9h.01M1275.0 680.4h.01M1275.1 682.6h.01M1275.1 684.8h.01M1275.0 689.0h.01M1274.9 692.7h.01M1274.8 695.0h.01M1275.2 698.8h.01M1275.1 702.9h.01M1274.8 705.3h.01M1288.2 650.2h.01M1287.9 652.8h.01M1287.9 655.1h.01M1288.2 657.2h.01M1288.2 660.2h.01M1288.2 663.7h.01M1288.0 666.4h.01M1287.8 669.5h.01M1287.8 673.0h.01M1287.8 676.4h.01M1313.2 664.0h.01M1313.2 666.5h.01M1313.2 670.4h.01M1313.0 674.3h.01M1313.2 678.3h.01M1312.9 681.3h.01M1312.9 685.6h.01M1313.0 687.7h.01M1313.0 690.0h.01M1313.2 694.0h.01M1332.2 607.6h.01M1332.0 610.1h.01M1332.2 612.7h.01M1331.9 615.8h.01M1332.2 619.3h.01M1332.2 621.3h.01M1332.2 625.3h.01M1332.2 628.7h.01M1332.1 632.4h.01M1331.8 634.8h.01M1332.0 638.1h.01M1331.8 642.2h.01M1332.1 644.2h.01M1332.1 646.6h.01M1331.9 650.8h.01M1349.2 634.0h.01M1349.2 636.5h.01M1349.0 640.5h.01M1349.1 643.5h.01M1348.9 645.9h.01M1348.8 648.9h.01M1349.2 652.4h.01M1349.2 655.3h.01M1349.0 659.5h.01M1349.2 661.6h.01M1349.1 664.5h.01M1349.1 667.9h.01M1349.2 670.8h.01M1349.2 674.3h.01M1349.1 676.3h.01M1349.2 680.8h.01M1349.0 683.2h.01M1349.2 685.8h.01M1349.2 689.1h.01M1349.1 692.5h.01M1348.8 696.9h.01M1278.2 654.5h.01M1278.2 668.8h.01M1287.5 618.2h.01M1295.8 612.5h.01M1295.0 626.2h.01M1295.0 631.2h.01M1326.2 689.2h.01" fill="none" stroke="#555555" stroke-width="10.5"/>
<path d="M1357.5 773.65L1357.5 766.6L1358.0 744.1L1365.0 706.6L1367.0 686.6L1368.0 657.7L1369.0 664.4L1373.0 669.1L1376.5 670.0L1379.0 669.1L1380.5 667.5L1381.0 666.4L1381.5 657.6L1382.5 621.6L1383.5 665.6L1384.0 676.6L1385.5 678.9L1388.5 680.2L1393.0 679.9L1393.5 679.6L1394.0 682.6L1395.0 696.6L1396.5 698.9L1399.5 700.2L1406.5 700.0L1409.0 698.6L1410.5 702.7L1413.0 704.9L1416.5 705.0L1418.5 703.9L1423.0 698.0L1423.5 696.9L1426.0 663.6L1426.5 660.9L1429.5 657.7L1430.0 656.6L1431.0 634.3L1431.5 633.3L1432.0 634.1L1433.5 689.1L1434.0 698.6L1435.0 706.6L1435.0 773.65ZM1367.5 649.0L1367.5 667.9M1382.0 575.5L1382.0 639.6M1395.0 676.5L1395.0 696.6M1409.0 690.8L1409.0 698.6" fill="#AAAAAA" stroke="#AAAAAA" stroke-width="4.5"/>
<path d="M1357.0 765.6h.01M1358.7 761.4h.01M1358.4 755.2h.01M1358.2 749.4h.01M1358.9 745.0h.01M1360.4 738.7h.01M1360.4 732.7h.01M1362.2 726.8h.01M1363.0 721.6h.01M1363.7 716.9h.01M1364.0 712.0h.01M1365.1 707.4h.01M1366.1 700.5h.01M1366.3 695.7h.01M1366.8 691.4h.01M1366.9 687.4h.01M1367.6 680.9h.01M1367.9 675.8h.01M1367.6 671.3h.01M1367.9 667.5h.01M1368.6 663.0h.01M1366.7 658.0h.01M1367.4 662.6h.01M1371.3 667.1h.01M1374.2 670.5h.01M1380.9 667.6h.01M1381.7 661.3h.01M1381.6 654.8h.01M1382.9 649.6h.01M1382.0 645.1h.01M1382.0 641.6h.01M1382.9 637.1h.01M1382.5 632.9h.01M1382.9 628.7h.01M1383.2 622.1h.01M1381.8 625.3h.01M1382.1 632.1h.01M1381.9 635.9h.01M1382.7 642.5h.01M1383.0 646.4h.01M1382.1 651.8h.01M1382.1 657.6h.01M1383.2 661.8h.01M1382.9 668.0h.01M1383.1 672.9h.01M1384.5 677.4h.01M1388.3 680.2h.01M1393.3 680.1h.01M1393.6 685.3h.01M1394.1 689.7h.01M1393.5 693.3h.01M1394.6 699.3h.01M1398.8 701.1h.01M1405.3 700.5h.01M1408.8 698.9h.01M1409.2 702.5h.01M1411.9 705.9h.01M1418.1 705.2h.01M1421.9 700.8h.01M1424.3 695.2h.01M1424.9 690.6h.01M1425.1 686.2h.01M1425.7 680.0h.01M1426.1 675.5h.01M1426.1 668.5h.01M1426.5 664.1h.01M1429.0 658.3h.01M1430.5 655.1h.01M1431.2 649.3h.01M1431.9 644.6h.01M1431.6 640.3h.01M1430.9 636.4h.01M1431.9 634.0h.01M1431.6 639.2h.01M1431.0 643.4h.01M1432.3 648.1h.01M1431.7 652.3h.01M1432.6 659.0h.01M1431.9 662.6h.01M1431.6 666.9h.01M1432.4 672.2h.01M1432.2 676.9h.01M1433.1 682.0h.01M1433.4 688.6h.01M1433.8 694.7h.01M1433.9 700.5h.01M1435.0 706.9h.01M1434.7 712.4h.01M1433.8 719.1h.01M1434.9 724.8h.01M1434.8 729.2h.01M1434.9 734.2h.01M1434.1 738.4h.01M1434.8 744.1h.01M1434.9 751.1h.01M1434.9 756.6h.01M1433.9 763.1h.01M1367.5 649.0h.01M1367.2 651.5h.01M1367.4 655.6h.01M1367.3 658.4h.01M1367.5 662.6h.01M1367.3 666.3h.01M1382.0 575.5h.01M1381.8 578.0h.01M1382.0 582.2h.01M1381.9 586.4h.01M1381.6 590.4h.01M1381.6 592.8h.01M1381.9 597.3h.01M1382.0 599.4h.01M1382.0 603.8h.01M1382.0 608.1h.01M1382.0 612.0h.01M1381.7 614.4h.01M1381.9 616.6h.01M1381.7 620.9h.01M1381.5 625.1h.01M1381.9 627.2h.01M1381.7 631.2h.01M1381.8 633.3h.01M1381.9 635.8h.01M1382.0 638.1h.01M1395.0 676.5h.01M1394.9 679.0h.01M1395.0 683.2h.01M1395.0 686.4h.01M1395.0 689.5h.01M1395.0 693.2h.01M1409.0 690.8h.01M1408.8 693.2h.01M1408.9 695.5h.01M1356.2 722.0h.01M1356.2 732.5h.01M1431.8 613.8h.01" fill="none" stroke="#AAAAAA" stroke-width="10.5"/>
<path d="M1435.5 773.65L1435.5 722.2L1436.5 721.1L1437.5 720.7L1443.5 725.0L1446.5 725.0L1457.0 719.1L1458.0 717.9L1458.5 716.8L1459.5 701.6L1461.0 703.9L1464.0 705.2L1469.5 704.9L1474.0 700.9L1478.0 699.3L1479.5 697.7L1480.0 696.6L1482.5 651.6L1483.5 646.2L1485.0 648.4L1488.0 650.1L1490.0 650.1L1491.0 651.6L1491.5 660.6L1492.5 696.6L1497.0 736.6L1497.0 773.65ZM1459.5 663.1L1459.5 701.6M1482.5 632.8L1482.5 651.6" fill="#555555" stroke="#555555" stroke-width="4.5"/>
<path d="M1436.6 765.6h.01M1435.6 760.9h.01M1436.6 754.0h.01M1435.7 748.0h.01M1435.7 743.9h.01M1435.5 740.1h.01M1435.8 734.8h.01M1435.8 729.4h.01M1436.2 725.9h.01M1437.4 721.7h.01M1440.8 724.7h.01M1448.8 725.9h.01M1453.4 721.8h.01M1457.5 719.3h.01M1459.1 712.6h.01M1459.5 707.7h.01M1460.7 703.8h.01M1459.5 703.3h.01M1466.1 705.4h.01M1471.5 703.7h.01M1474.6 700.9h.01M1479.3 700.2h.01M1481.3 693.6h.01M1481.2 689.9h.01M1481.3 685.3h.01M1481.2 679.9h.01M1481.3 673.0h.01M1482.7 666.9h.01M1482.6 661.6h.01M1482.5 654.6h.01M1483.9 649.1h.01M1483.7 648.5h.01M1488.8 651.0h.01M1490.4 654.3h.01M1490.7 658.9h.01M1491.5 664.3h.01M1491.6 669.9h.01M1491.5 676.6h.01M1491.6 682.6h.01M1492.1 687.8h.01M1491.2 691.8h.01M1492.0 697.2h.01M1492.1 702.6h.01M1493.5 706.8h.01M1493.9 713.1h.01M1493.9 718.9h.01M1494.6 725.5h.01M1495.8 729.0h.01M1495.8 735.5h.01M1496.9 739.3h.01M1497.0 743.7h.01M1496.1 748.4h.01M1496.6 753.8h.01M1496.7 757.6h.01M1496.2 764.6h.01M1459.5 663.1h.01M1459.3 665.6h.01M1459.2 669.6h.01M1459.2 672.0h.01M1459.3 674.9h.01M1459.4 677.5h.01M1459.4 680.4h.01M1459.5 682.4h.01M1459.5 685.8h.01M1459.2 688.3h.01M1459.4 691.0h.01M1459.1 693.6h.01M1459.2 695.8h.01M1459.5 700.0h.01M1482.5 632.8h.01M1482.1 635.2h.01M1482.4 638.8h.01M1482.4 640.9h.01M1482.2 643.8h.01M1482.4 646.6h.01M1482.1 650.2h.01M1438.8 707.5h.01M1453.8 673.0h.01M1472.5 686.2h.01M1492.0 634.5h.01" fill="none" stroke="#555555" stroke-width="10.5"/>
<path d="M1507.0 773.65L1507.0 766.6L1507.5 746.6L1510.0 731.6L1512.5 696.6L1514.0 669.1L1515.0 659.1L1515.5 662.6L1516.5 688.6L1518.5 704.6L1520.0 706.9L1523.0 708.2L1526.5 707.6L1528.0 706.4L1529.0 704.6L1530.0 696.6L1530.5 664.9L1531.0 649.9L1535.5 649.9L1536.5 649.5L1537.0 649.7L1538.0 696.6L1539.5 721.6L1540.0 766.6L1540.0 773.65ZM1515.0 646.5L1515.0 659.1M1530.0 649.0L1530.0 696.6M1538.0 647.8L1538.0 696.6" fill="#AAAAAA" stroke="#AAAAAA" stroke-width="4.5"/>
<path d="M1506.7 765.6h.01M1508.3 762.1h.01M1508.5 757.9h.01M1507.7 751.9h.01M1507.9 746.1h.01M1509.2 742.5h.01M1509.6 737.7h.01M1511.1 732.6h.01M1510.4 726.3h.01M1511.2 720.8h.01M1512.2 715.7h.01M1511.9 710.7h.01M1512.4 704.1h.01M1512.8 698.9h.01M1513.5 692.6h.01M1513.4 686.4h.01M1514.0 682.8h.01M1514.5 677.4h.01M1513.9 671.2h.01M1514.2 666.9h.01M1514.9 660.6h.01M1514.4 661.5h.01M1515.6 666.9h.01M1515.1 672.8h.01M1516.1 677.9h.01M1516.0 683.8h.01M1515.2 689.5h.01M1516.2 695.8h.01M1517.6 699.7h.01M1518.7 704.9h.01M1524.3 708.3h.01M1528.4 706.4h.01M1530.4 702.2h.01M1530.5 696.8h.01M1530.1 691.7h.01M1531.2 687.2h.01M1531.3 680.9h.01M1530.4 676.5h.01M1530.9 672.8h.01M1530.9 668.0h.01M1531.2 662.8h.01M1531.7 658.0h.01M1532.0 653.8h.01M1532.5 649.9h.01M1536.5 649.7h.01M1536.5 654.6h.01M1537.0 659.2h.01M1537.1 665.5h.01M1536.5 671.5h.01M1537.2 677.1h.01M1537.3 683.9h.01M1537.8 690.4h.01M1537.3 695.4h.01M1537.1 699.2h.01M1537.7 702.9h.01M1537.4 707.0h.01M1538.0 712.5h.01M1538.5 717.7h.01M1539.3 723.5h.01M1538.6 727.8h.01M1538.5 731.8h.01M1539.6 736.0h.01M1538.8 739.8h.01M1539.4 746.6h.01M1539.7 752.5h.01M1539.2 759.1h.01M1539.9 763.2h.01M1515.0 646.5h.01M1515.0 649.0h.01M1514.9 653.1h.01M1514.8 655.7h.01M1514.8 658.5h.01M1530.0 649.0h.01M1529.6 651.5h.01M1529.6 654.3h.01M1529.6 656.7h.01M1529.9 661.1h.01M1529.9 663.2h.01M1529.9 666.8h.01M1530.0 670.2h.01M1529.7 673.4h.01M1529.7 676.4h.01M1529.6 678.7h.01M1529.6 681.0h.01M1529.5 685.5h.01M1529.9 688.8h.01M1529.7 691.7h.01M1529.6 694.9h.01M1538.0 647.8h.01M1537.8 650.2h.01M1537.8 654.4h.01M1538.0 657.8h.01M1537.9 660.1h.01M1537.6 664.3h.01M1537.6 666.9h.01M1537.8 669.0h.01M1537.9 673.4h.01M1537.7 677.8h.01M1537.9 679.9h.01M1537.9 683.0h.01M1538.0 686.9h.01M1537.9 690.8h.01M1537.8 693.0h.01M1537.8 695.3h.01M1513.8 636.2h.01M1518.8 639.5h.01M1518.2 626.8h.01" fill="none" stroke="#AAAAAA" stroke-width="10.5"/>
<path d="M1554.5 773.65L1554.5 766.6L1555.0 747.4L1557.0 745.2L1557.5 744.1L1559.5 721.6L1560.0 681.6L1560.5 696.6L1562.0 698.9L1565.0 700.2L1570.0 699.9L1572.0 698.4L1573.0 696.6L1574.5 656.6L1576.5 638.3L1577.0 641.6L1577.5 651.6L1579.0 653.9L1582.5 656.3L1586.0 661.6L1586.5 664.9L1588.5 684.5L1589.0 686.9L1594.5 693.2L1600.5 707.7L1603.0 709.9L1606.5 710.0L1608.5 708.9L1609.5 707.7L1610.0 706.6L1611.0 698.7L1612.5 709.1L1615.0 712.4L1615.0 773.65ZM1561.0 666.8L1561.0 697.7M1577.0 624.8L1577.0 641.6M1610.0 694.0L1610.0 706.6" fill="#555555" stroke="#555555" stroke-width="4.5"/>
<path d="M1553.9 765.6h.01M1554.6 762.4h.01M1554.8 757.1h.01M1555.0 751.4h.01M1556.4 746.5h.01M1558.4 742.0h.01M1558.2 737.9h.01M1558.9 731.1h.01M1560.4 724.8h.01M1559.6 719.5h.01M1560.7 715.7h.01M1560.1 711.8h.01M1559.7 706.4h.01M1559.8 701.3h.01M1560.3 695.9h.01M1560.0 691.1h.01M1560.1 686.2h.01M1560.1 682.3h.01M1559.7 687.5h.01M1560.4 694.1h.01M1563.1 700.3h.01M1569.6 700.9h.01M1573.2 695.7h.01M1573.3 689.6h.01M1573.4 685.1h.01M1574.1 680.3h.01M1574.9 675.8h.01M1574.5 672.0h.01M1574.7 667.7h.01M1575.1 661.4h.01M1574.6 657.7h.01M1576.4 652.3h.01M1576.1 648.6h.01M1577.1 642.7h.01M1575.5 638.7h.01M1575.9 643.7h.01M1576.0 647.3h.01M1577.4 652.3h.01M1580.2 655.0h.01M1583.5 659.8h.01M1585.9 662.7h.01M1586.6 666.7h.01M1586.8 670.9h.01M1586.4 677.9h.01M1588.0 684.1h.01M1589.5 689.5h.01M1593.7 694.2h.01M1596.8 699.1h.01M1597.9 704.8h.01M1602.4 709.4h.01M1608.3 709.6h.01M1611.5 706.0h.01M1611.8 700.1h.01M1610.3 701.5h.01M1611.1 708.2h.01M1614.0 713.3h.01M1614.4 719.6h.01M1614.0 724.7h.01M1613.9 730.9h.01M1613.8 735.4h.01M1613.8 740.8h.01M1613.8 744.7h.01M1614.8 751.0h.01M1614.9 757.4h.01M1614.6 761.6h.01M1561.0 666.8h.01M1560.8 669.2h.01M1560.7 673.5h.01M1560.9 677.3h.01M1560.6 681.3h.01M1560.5 685.0h.01M1560.9 689.0h.01M1560.7 691.2h.01M1560.9 695.3h.01M1577.0 624.8h.01M1576.6 627.2h.01M1577.0 631.2h.01M1577.0 634.5h.01M1576.6 636.7h.01M1576.8 639.8h.01M1610.0 694.0h.01M1609.9 696.5h.01M1609.9 699.0h.01M1609.8 703.1h.01M1610.0 705.9h.01M1547.5 673.2h.01M1547.5 683.8h.01M1547.5 690.0h.01M1547.5 697.5h.01M1547.5 715.8h.01M1545.0 748.8h.01M1545.0 762.5h.01M1560.8 646.2h.01M1566.2 640.0h.01M1587.5 598.0h.01M1587.5 606.2h.01M1587.5 619.5h.01M1587.5 624.5h.01M1587.5 643.8h.01M1595.8 669.2h.01M1597.0 685.0h.01" fill="none" stroke="#555555" stroke-width="10.5"/>
<path d="M1625.0 773.65L1625.0 766.6L1625.5 741.6L1628.5 690.6L1631.5 605.4L1632.0 606.6L1632.5 677.1L1636.0 683.4L1639.0 685.2L1642.0 684.9L1644.0 683.4L1647.5 676.6L1648.0 643.5L1649.5 671.6L1653.5 676.9L1654.0 686.6L1655.0 726.6L1656.5 728.9L1662.0 732.4L1665.5 732.4L1671.0 728.9L1672.0 727.7L1672.5 726.6L1675.0 706.6L1678.0 694.1L1679.5 696.4L1684.5 699.8L1687.5 699.8L1689.5 698.7L1690.5 697.5L1691.0 696.4L1691.5 693.0L1692.0 685.9L1692.5 696.6L1693.5 752.6L1693.5 773.65ZM1647.5 566.5L1647.5 570.0M1647.5 582.5L1647.5 619.0M1631.5 589.3L1631.5 605.4M1647.5 634.0L1647.5 676.6M1677.5 659.0L1677.5 696.6M1692.5 671.5L1692.5 696.6" fill="#AAAAAA" stroke="#AAAAAA" stroke-width="4.5"/>
<path d="M1624.2 765.6h.01M1625.8 762.5h.01M1625.3 756.2h.01M1625.3 750.3h.01M1625.6 743.9h.01M1626.9 739.5h.01M1626.1 734.7h.01M1626.9 728.1h.01M1627.0 721.5h.01M1628.3 716.3h.01M1628.6 711.1h.01M1628.6 706.9h.01M1628.3 702.8h.01M1628.1 699.3h.01M1628.8 692.5h.01M1628.8 686.2h.01M1628.9 681.4h.01M1630.1 676.0h.01M1629.5 670.7h.01M1630.6 664.0h.01M1629.7 658.1h.01M1630.2 652.5h.01M1630.4 645.6h.01M1631.0 639.8h.01M1631.0 635.0h.01M1631.8 629.1h.01M1631.1 623.9h.01M1631.1 616.9h.01M1632.1 610.6h.01M1631.1 605.8h.01M1630.9 611.7h.01M1631.2 617.7h.01M1631.9 621.3h.01M1630.9 625.3h.01M1632.1 631.9h.01M1631.6 637.5h.01M1631.9 641.1h.01M1631.6 647.3h.01M1631.4 651.7h.01M1631.8 656.3h.01M1631.1 661.2h.01M1631.5 667.0h.01M1632.2 672.9h.01M1632.8 679.9h.01M1637.0 684.4h.01M1641.0 686.0h.01M1646.4 681.4h.01M1647.5 676.7h.01M1648.7 671.4h.01M1648.5 667.3h.01M1647.9 663.2h.01M1648.0 659.5h.01M1649.1 654.7h.01M1648.0 647.8h.01M1646.8 643.8h.01M1648.0 647.9h.01M1648.5 652.9h.01M1648.4 657.4h.01M1647.7 662.2h.01M1649.1 666.6h.01M1650.0 673.3h.01M1652.9 678.4h.01M1653.7 684.6h.01M1653.2 688.6h.01M1653.6 693.8h.01M1653.5 699.6h.01M1654.1 704.1h.01M1654.1 710.8h.01M1654.1 715.3h.01M1653.9 719.7h.01M1653.9 723.4h.01M1655.9 728.7h.01M1661.6 732.5h.01M1666.0 732.1h.01M1671.4 730.4h.01M1673.2 724.0h.01M1673.7 717.7h.01M1674.9 713.3h.01M1675.8 706.5h.01M1677.5 700.8h.01M1679.0 696.2h.01M1680.5 697.7h.01M1684.9 701.6h.01M1689.4 699.0h.01M1692.0 692.9h.01M1692.6 687.6h.01M1692.2 690.9h.01M1692.4 695.5h.01M1692.1 700.5h.01M1692.0 707.0h.01M1692.4 712.5h.01M1692.7 718.0h.01M1692.1 724.5h.01M1693.0 730.9h.01M1692.4 736.7h.01M1692.2 742.0h.01M1692.6 748.6h.01M1692.8 755.0h.01M1693.4 761.6h.01M1647.5 566.5h.01M1647.2 569.0h.01M1647.5 582.5h.01M1647.4 585.0h.01M1647.3 587.2h.01M1647.4 591.2h.01M1647.4 593.8h.01M1647.2 596.0h.01M1647.1 600.4h.01M1647.2 603.3h.01M1647.1 605.5h.01M1647.5 608.3h.01M1647.5 611.9h.01M1647.5 614.6h.01M1647.3 617.7h.01M1631.5 589.3h.01M1631.5 591.8h.01M1631.5 595.9h.01M1631.3 598.5h.01M1631.4 601.3h.01M1631.4 604.7h.01M1647.5 634.0h.01M1647.5 636.5h.01M1647.1 640.6h.01M1647.5 643.9h.01M1647.5 647.9h.01M1647.4 651.1h.01M1647.2 653.3h.01M1647.3 657.1h.01M1647.3 660.1h.01M1647.4 663.6h.01M1647.0 667.8h.01M1647.0 671.8h.01M1647.0 674.6h.01M1677.5 659.0h.01M1677.3 661.5h.01M1677.3 663.8h.01M1677.2 667.5h.01M1677.4 670.7h.01M1677.4 673.2h.01M1677.5 675.9h.01M1677.3 679.7h.01M1677.5 682.8h.01M1677.5 686.6h.01M1677.3 689.2h.01M1677.0 693.0h.01M1692.5 671.5h.01M1692.0 674.0h.01M1692.2 678.3h.01M1692.5 682.1h.01M1692.5 684.6h.01M1692.2 688.8h.01M1692.4 692.3h.01M1692.5 695.2h.01M1647.3 476.3h.01M1647.5 538.4h.01M1647.3 545.0h.01M1656.0 621.0h.01M1656.6 645.4h.01" fill="none" stroke="#AAAAAA" stroke-width="10.5"/>
<path d="M1704.2 773.65L1704.2 766.6L1704.8 691.6L1705.2 684.7L1707.8 686.9L1711.2 687.0L1714.2 684.9L1714.8 684.2L1718.8 706.6L1723.2 711.8L1726.8 712.7L1729.2 711.8L1731.2 709.6L1734.8 710.2L1737.2 708.9L1738.2 707.7L1738.8 706.6L1740.2 655.2L1740.8 663.3L1741.2 696.6L1749.2 720.2L1757.8 727.7L1759.8 735.6L1761.2 737.9L1764.2 739.2L1767.8 738.6L1769.2 737.4L1770.2 735.6L1771.2 731.6L1771.8 748.3L1771.8 773.65ZM1704.8 671.7L1704.8 691.6M1714.8 668.1L1714.8 684.2M1740.2 646.7L1740.2 655.2M1773.2 711.8L1773.2 765.6" fill="#555555" stroke="#555555" stroke-width="4.5"/>
<path d="M1703.0 765.6h.01M1704.3 763.0h.01M1704.6 758.9h.01M1705.3 752.2h.01M1704.4 747.1h.01M1704.5 743.3h.01M1704.9 737.0h.01M1705.6 730.1h.01M1705.0 723.8h.01M1704.6 717.4h.01M1705.2 713.5h.01M1704.8 708.3h.01M1704.7 703.9h.01M1705.5 697.2h.01M1706.2 690.5h.01M1706.1 685.4h.01M1708.5 688.7h.01M1714.4 684.8h.01M1715.1 687.0h.01M1715.9 692.5h.01M1715.7 696.1h.01M1717.5 702.2h.01M1717.4 705.9h.01M1721.6 710.0h.01M1725.1 713.5h.01M1731.4 710.4h.01M1736.4 709.6h.01M1739.9 706.1h.01M1739.0 701.3h.01M1739.1 695.7h.01M1739.6 691.5h.01M1740.0 686.0h.01M1739.9 680.0h.01M1740.5 676.3h.01M1740.2 672.6h.01M1740.6 667.7h.01M1740.2 661.7h.01M1741.0 655.9h.01M1740.5 659.6h.01M1740.2 666.3h.01M1740.7 670.0h.01M1740.8 677.0h.01M1740.1 681.8h.01M1740.5 688.2h.01M1741.2 694.3h.01M1740.2 698.6h.01M1743.8 704.0h.01M1744.8 707.6h.01M1747.0 714.0h.01M1747.6 719.9h.01M1751.7 724.9h.01M1756.2 726.5h.01M1757.1 729.5h.01M1757.6 733.3h.01M1761.6 738.3h.01M1767.8 738.7h.01M1770.6 734.3h.01M1770.2 735.1h.01M1771.6 741.7h.01M1771.2 748.2h.01M1771.3 754.6h.01M1771.2 760.3h.01M1704.8 671.7h.01M1704.7 674.2h.01M1704.5 676.4h.01M1704.6 679.1h.01M1704.4 681.1h.01M1704.4 683.2h.01M1704.6 687.2h.01M1704.5 689.5h.01M1714.8 668.1h.01M1714.6 670.6h.01M1714.3 672.9h.01M1714.6 676.2h.01M1714.4 678.5h.01M1714.4 682.6h.01M1740.2 646.7h.01M1740.1 649.2h.01M1739.9 651.9h.01M1740.0 654.3h.01M1773.2 711.8h.01M1772.9 714.3h.01M1773.2 716.3h.01M1773.0 718.6h.01M1773.1 722.1h.01M1773.1 725.2h.01M1773.0 728.8h.01M1772.9 733.0h.01M1772.8 737.0h.01M1772.9 741.1h.01M1773.0 743.2h.01M1773.1 747.3h.01M1773.2 751.5h.01M1773.1 755.9h.01M1773.2 759.6h.01M1773.1 762.4h.01M1773.2 765.2h.01M1715.5 682.0h.01M1729.5 688.8h.01M1750.0 695.0h.01M1758.8 683.2h.01M1758.8 692.5h.01M1758.8 700.0h.01" fill="none" stroke="#555555" stroke-width="10.5"/>
<path d="M1781.5 773.65L1781.5 766.6L1782.5 721.6L1785.0 691.6L1789.0 681.6L1792.0 680.3L1795.0 684.5L1800.0 721.6L1801.5 723.9L1804.5 725.2L1807.5 724.6L1812.5 721.1L1813.5 719.3L1814.0 709.6L1814.5 690.6L1815.0 688.7L1815.5 696.6L1824.0 708.9L1827.0 710.2L1830.0 709.6L1831.5 708.4L1839.0 689.3L1839.5 689.8L1841.0 755.5L1841.0 773.65ZM1793.5 679.1L1793.5 682.4M1814.5 667.2L1814.5 690.6M1840.0 687.8L1840.0 711.2" fill="#AAAAAA" stroke="#AAAAAA" stroke-width="4.5"/>
<path d="M1780.2 765.6h.01M1782.8 761.8h.01M1782.8 755.6h.01M1782.8 748.6h.01M1782.2 744.2h.01M1782.1 739.2h.01M1783.3 734.9h.01M1782.6 728.2h.01M1783.4 722.0h.01M1784.0 715.5h.01M1783.5 710.1h.01M1784.2 703.7h.01M1784.8 698.0h.01M1786.2 692.8h.01M1786.7 689.1h.01M1788.9 683.7h.01M1792.5 681.8h.01M1794.6 687.6h.01M1796.3 694.4h.01M1796.7 698.6h.01M1797.8 705.2h.01M1797.5 709.7h.01M1799.2 716.5h.01M1799.2 721.6h.01M1803.7 726.5h.01M1809.9 723.2h.01M1813.0 720.1h.01M1813.9 714.4h.01M1815.3 710.0h.01M1814.7 704.2h.01M1814.9 698.4h.01M1814.7 692.5h.01M1815.0 688.8h.01M1814.9 692.2h.01M1815.4 696.2h.01M1816.7 701.6h.01M1821.4 705.6h.01M1825.7 709.9h.01M1829.6 710.1h.01M1833.3 706.4h.01M1835.2 701.8h.01M1837.1 698.4h.01M1838.6 693.9h.01M1839.9 690.5h.01M1838.5 692.5h.01M1839.0 698.8h.01M1839.8 703.3h.01M1838.8 707.5h.01M1839.3 711.5h.01M1839.4 717.1h.01M1840.1 721.2h.01M1839.0 725.0h.01M1839.7 729.9h.01M1840.4 735.3h.01M1840.6 739.1h.01M1840.7 745.5h.01M1840.6 752.4h.01M1840.9 758.4h.01M1840.8 764.7h.01M1793.5 679.1h.01M1793.3 681.6h.01M1814.5 667.2h.01M1814.4 669.8h.01M1814.4 673.7h.01M1814.2 676.7h.01M1814.5 679.3h.01M1814.4 681.8h.01M1814.2 684.7h.01M1814.1 687.9h.01M1814.2 690.0h.01M1840.0 687.8h.01M1839.9 690.2h.01M1839.9 692.3h.01M1839.8 694.6h.01M1840.0 698.4h.01M1839.8 700.7h.01M1839.9 703.1h.01M1840.0 706.2h.01M1839.9 708.4h.01M1793.8 649.2h.01M1825.5 679.2h.01M1825.5 696.2h.01M1836.2 667.5h.01M1840.5 658.8h.01" fill="none" stroke="#AAAAAA" stroke-width="10.5"/>
<path d="M1848.8 773.65L1848.8 742.9L1851.2 736.6L1852.8 638.5L1853.2 647.5L1854.8 653.2L1856.8 656.2L1859.8 657.6L1862.8 656.9L1863.2 659.9L1864.8 683.0L1866.2 721.6L1867.8 723.9L1870.2 725.6L1872.2 735.4L1873.8 761.6L1874.2 766.6L1875.2 768.4L1875.2 773.65ZM1883.8 773.65L1883.8 768.4L1884.8 766.6L1885.8 715.4L1887.8 666.9L1891.8 671.6L1895.2 672.5L1897.8 671.6L1899.2 670.0L1899.8 668.9L1900.2 663.1L1902.2 697.3L1902.8 701.9L1906.2 707.1L1906.2 773.65ZM1852.8 613.5L1852.8 638.5M1887.2 631.9L1887.2 677.9M1900.2 639.2L1900.2 663.1" fill="#555555" stroke="#555555" stroke-width="4.5"/>
<path d="M1849.9 765.6h.01M1848.8 760.2h.01M1849.6 755.9h.01M1849.8 750.5h.01M1849.8 743.6h.01M1851.4 740.5h.01M1851.4 734.9h.01M1852.4 730.8h.01M1851.4 726.5h.01M1852.6 722.1h.01M1852.4 717.0h.01M1852.0 713.2h.01M1851.8 708.6h.01M1852.1 702.8h.01M1853.1 698.9h.01M1852.0 693.7h.01M1852.7 690.1h.01M1852.0 684.8h.01M1853.0 679.7h.01M1852.4 674.3h.01M1852.9 669.1h.01M1852.4 663.3h.01M1853.7 657.0h.01M1853.6 650.9h.01M1853.8 646.1h.01M1852.8 642.0h.01M1851.7 640.6h.01M1852.9 644.4h.01M1852.9 648.1h.01M1854.3 651.9h.01M1857.3 657.6h.01M1862.6 658.5h.01M1863.5 664.3h.01M1863.8 671.1h.01M1863.8 676.3h.01M1864.3 683.1h.01M1864.4 690.0h.01M1864.2 694.3h.01M1864.0 698.5h.01M1865.4 703.6h.01M1865.6 710.4h.01M1865.7 715.4h.01M1866.2 721.2h.01M1869.0 725.0h.01M1871.3 730.5h.01M1872.1 736.1h.01M1872.0 741.2h.01M1872.9 747.1h.01M1873.1 751.5h.01M1873.5 758.3h.01M1873.3 762.3h.01M1873.5 768.4h.01M1883.6 765.6h.01M1885.1 767.6h.01M1885.2 762.2h.01M1885.7 755.6h.01M1886.3 749.1h.01M1886.4 744.7h.01M1885.3 739.8h.01M1885.4 733.1h.01M1885.7 729.5h.01M1886.8 725.0h.01M1886.0 718.4h.01M1886.9 713.1h.01M1886.8 706.8h.01M1886.4 701.5h.01M1887.2 697.2h.01M1887.7 691.6h.01M1888.3 685.0h.01M1887.2 680.8h.01M1888.0 674.2h.01M1888.4 670.0h.01M1888.4 667.9h.01M1891.1 671.9h.01M1897.2 671.8h.01M1900.6 666.8h.01M1899.6 664.6h.01M1900.7 670.9h.01M1900.2 676.1h.01M1900.6 682.1h.01M1900.3 686.2h.01M1901.8 692.4h.01M1900.9 697.5h.01M1902.3 701.6h.01M1905.1 707.4h.01M1905.4 711.7h.01M1905.5 716.4h.01M1906.2 722.6h.01M1906.1 726.9h.01M1906.2 731.3h.01M1905.9 735.3h.01M1906.2 740.3h.01M1905.1 745.8h.01M1906.0 751.3h.01M1905.9 757.3h.01M1905.8 761.4h.01M1905.5 765.0h.01M1852.8 613.5h.01M1852.6 616.0h.01M1852.4 620.4h.01M1852.5 624.5h.01M1852.5 628.1h.01M1852.7 632.5h.01M1852.7 636.4h.01M1887.2 631.9h.01M1886.9 634.4h.01M1886.9 637.9h.01M1887.0 642.1h.01M1887.2 644.6h.01M1886.9 647.9h.01M1887.2 650.6h.01M1887.2 652.6h.01M1887.2 656.3h.01M1887.2 658.9h.01M1886.8 662.7h.01M1887.2 664.7h.01M1886.8 669.1h.01M1887.2 671.4h.01M1887.2 674.7h.01M1887.1 677.8h.01M1900.2 639.2h.01M1900.2 641.7h.01M1900.2 643.9h.01M1900.0 646.2h.01M1900.2 649.9h.01M1899.9 653.9h.01M1900.1 656.7h.01M1899.8 659.2h.01M1900.2 662.6h.01M1900.5 613.8h.01M1900.5 618.8h.01M1900.5 623.8h.01M1909.2 674.5h.01M1909.2 691.2h.01" fill="none" stroke="#555555" stroke-width="10.5"/>
<path d="M1915.0 773.65L1915.0 766.6L1917.5 686.6L1919.0 675.4L1919.5 674.3L1923.0 675.2L1926.5 674.3L1930.5 675.2L1933.0 674.3L1934.5 672.7L1935.0 671.6L1937.0 632.7L1937.5 635.9L1938.5 669.5L1940.0 686.6L1941.5 688.9L1944.5 690.2L1947.5 689.6L1949.0 688.4L1950.0 686.6L1953.0 671.6L1954.5 621.6L1955.0 621.6L1955.5 646.6L1957.0 671.6L1963.0 685.2L1968.0 690.4L1971.0 696.2L1973.0 721.6L1974.5 766.6L1974.5 773.65ZM1918.5 670.5L1918.5 679.1M1937.5 612.8L1937.5 635.9M1955.0 596.5L1955.0 621.6" fill="#AAAAAA" stroke="#AAAAAA" stroke-width="4.5"/>
<path d="M1914.3 765.6h.01M1915.9 762.7h.01M1916.2 758.4h.01M1915.5 752.1h.01M1915.7 746.6h.01M1916.8 740.6h.01M1916.2 734.3h.01M1916.8 730.5h.01M1916.4 725.0h.01M1917.0 720.9h.01M1917.2 717.0h.01M1916.9 712.6h.01M1917.4 707.7h.01M1917.0 701.6h.01M1917.4 695.6h.01M1918.0 691.1h.01M1918.4 685.2h.01M1918.7 678.6h.01M1919.4 675.6h.01M1924.0 675.1h.01M1927.8 676.3h.01M1934.8 674.2h.01M1936.2 666.9h.01M1935.7 662.3h.01M1935.8 656.3h.01M1936.1 650.6h.01M1936.8 647.0h.01M1937.7 643.0h.01M1937.2 636.4h.01M1937.0 633.2h.01M1937.1 638.4h.01M1936.9 643.2h.01M1937.0 648.5h.01M1938.0 652.4h.01M1937.7 657.2h.01M1937.5 661.6h.01M1938.2 665.9h.01M1937.8 671.1h.01M1938.9 677.2h.01M1938.4 682.4h.01M1940.5 689.1h.01M1944.9 690.9h.01M1949.7 687.7h.01M1951.9 684.4h.01M1951.9 677.6h.01M1953.5 672.7h.01M1953.1 668.0h.01M1954.2 661.9h.01M1953.5 656.8h.01M1953.6 652.0h.01M1953.8 645.1h.01M1954.8 640.6h.01M1954.1 636.6h.01M1954.3 632.9h.01M1955.3 627.5h.01M1954.5 623.4h.01M1954.7 625.5h.01M1955.1 630.2h.01M1954.0 634.5h.01M1955.2 638.4h.01M1954.3 644.5h.01M1955.3 651.2h.01M1955.5 658.0h.01M1956.0 662.5h.01M1956.0 668.5h.01M1957.2 672.4h.01M1960.0 678.7h.01M1962.3 684.6h.01M1965.3 687.9h.01M1967.1 692.5h.01M1969.3 695.9h.01M1971.2 699.8h.01M1971.5 705.9h.01M1971.7 710.0h.01M1971.5 716.4h.01M1973.0 721.9h.01M1972.6 728.0h.01M1972.2 734.7h.01M1972.5 739.3h.01M1973.6 745.7h.01M1973.7 750.5h.01M1973.8 755.2h.01M1974.1 759.1h.01M1974.1 765.8h.01M1918.5 670.5h.01M1918.1 673.0h.01M1918.4 676.9h.01M1937.5 612.8h.01M1937.1 615.2h.01M1937.2 619.7h.01M1937.1 623.6h.01M1937.2 626.2h.01M1937.1 629.2h.01M1937.3 631.5h.01M1937.1 634.4h.01M1955.0 596.5h.01M1954.6 599.0h.01M1954.6 603.1h.01M1954.5 605.5h.01M1954.7 609.3h.01M1955.0 613.0h.01M1954.8 617.1h.01M1954.9 620.3h.01M1918.2 661.8h.01M1955.0 555.0h.01M1955.0 563.8h.01M1955.0 568.8h.01M1955.0 575.0h.01M1955.0 580.0h.01M1966.2 647.5h.01M1966.2 652.5h.01M1966.2 660.0h.01M1966.2 665.0h.01M1966.2 675.0h.01" fill="none" stroke="#AAAAAA" stroke-width="10.5"/>
<path d="M1978.0 773.65L1978.0 747.8L1980.0 746.1L1981.0 744.3L1985.0 721.6L1986.5 694.1L1987.5 684.1L1988.0 682.3L1988.5 685.2L1990.0 687.5L1993.0 688.8L1996.0 688.2L1998.0 686.6L1999.0 684.8L2000.0 677.7L2000.5 676.7L2004.0 679.6L2007.5 679.8L2009.5 678.7L2011.0 676.7L2012.5 672.1L2015.0 668.7L2016.0 674.8L2017.5 721.6L2017.5 773.65ZM1987.5 676.5L1987.5 684.1M1999.5 672.8L1999.5 681.2M2015.0 662.8L2015.0 668.7" fill="#555555" stroke="#555555" stroke-width="4.5"/>
<path d="M1978.9 765.6h.01M1978.1 759.1h.01M1978.2 754.4h.01M1978.2 750.6h.01M1979.6 748.4h.01M1981.1 743.9h.01M1982.7 740.4h.01M1982.9 736.1h.01M1984.4 731.4h.01M1984.7 724.5h.01M1986.3 718.9h.01M1986.6 713.8h.01M1986.0 707.6h.01M1986.7 701.1h.01M1986.9 697.3h.01M1987.3 690.9h.01M1987.7 685.7h.01M1987.8 685.9h.01M1991.4 688.6h.01M1997.4 689.7h.01M1999.3 683.4h.01M2000.4 676.8h.01M2004.8 680.3h.01M2010.6 678.2h.01M2012.3 674.6h.01M2015.9 669.8h.01M2015.6 673.2h.01M2015.2 679.3h.01M2015.2 683.6h.01M2016.1 690.5h.01M2015.9 695.3h.01M2016.8 702.1h.01M2016.8 706.6h.01M2017.1 712.7h.01M2016.9 718.1h.01M2017.4 723.9h.01M2016.2 730.8h.01M2016.6 736.2h.01M2016.4 740.4h.01M2016.6 745.8h.01M2017.2 752.4h.01M2017.4 759.1h.01M2017.0 762.7h.01M1987.5 676.5h.01M1987.1 679.0h.01M1987.3 683.4h.01M1999.5 672.8h.01M1999.3 675.2h.01M1999.2 677.6h.01M2015.0 662.8h.01M2014.9 665.2h.01M1987.5 630.0h.01M1985.0 657.5h.01M1988.0 663.8h.01M2007.0 640.0h.01" fill="none" stroke="#555555" stroke-width="10.5"/>
<path d="M2031.2 773.65L2031.2 766.6L2035.2 648.7L2036.2 671.6L2038.8 696.6L2040.2 698.9L2043.2 700.2L2046.2 699.6L2047.8 698.4L2048.8 696.6L2051.2 672.9L2053.8 706.6L2057.2 713.7L2059.8 729.9L2060.8 732.9L2066.8 737.2L2069.2 743.4L2071.2 759.1L2071.2 773.65ZM2034.8 630.1L2034.8 661.6M2051.2 657.8L2051.2 672.9" fill="#AAAAAA" stroke="#AAAAAA" stroke-width="4.5"/>
<path d="M2031.1 765.6h.01M2031.7 763.1h.01M2032.0 757.8h.01M2031.7 754.0h.01M2032.6 749.3h.01M2032.2 743.2h.01M2032.7 738.8h.01M2033.0 734.7h.01M2032.7 728.0h.01M2033.6 722.5h.01M2033.8 716.4h.01M2033.3 710.4h.01M2034.6 704.0h.01M2034.7 700.3h.01M2033.7 695.2h.01M2034.8 691.5h.01M2034.1 685.6h.01M2034.9 680.5h.01M2034.7 673.5h.01M2034.8 667.3h.01M2034.8 663.1h.01M2035.6 658.2h.01M2035.2 653.6h.01M2035.3 649.4h.01M2035.2 652.3h.01M2035.5 657.6h.01M2035.5 662.7h.01M2035.7 669.6h.01M2036.3 676.5h.01M2036.5 680.6h.01M2037.4 684.6h.01M2037.1 688.4h.01M2038.2 695.2h.01M2040.5 699.7h.01M2045.5 701.2h.01M2048.8 696.8h.01M2050.0 690.4h.01M2050.9 686.9h.01M2050.7 680.8h.01M2052.3 675.2h.01M2051.1 675.5h.01M2051.2 680.1h.01M2051.3 685.9h.01M2052.6 692.6h.01M2052.0 697.5h.01M2052.9 703.7h.01M2054.7 709.4h.01M2056.9 715.6h.01M2058.2 720.3h.01M2057.6 724.4h.01M2059.9 730.4h.01M2062.0 734.6h.01M2066.4 737.5h.01M2068.8 743.3h.01M2068.6 748.7h.01M2070.2 754.3h.01M2070.9 758.9h.01M2070.3 764.5h.01M2034.8 630.1h.01M2034.6 632.6h.01M2034.6 635.5h.01M2034.6 639.8h.01M2034.7 642.5h.01M2034.7 646.6h.01M2034.7 650.3h.01M2034.7 652.8h.01M2034.7 656.8h.01M2034.7 659.3h.01M2051.2 657.8h.01M2050.9 660.2h.01M2050.8 664.1h.01M2051.0 668.4h.01M2051.2 672.7h.01M2035.0 615.5h.01" fill="none" stroke="#AAAAAA" stroke-width="10.5"/>
<path d="M218.2 747.5L217.2 753.0L216.4 760.0L216.3 766.0L219.8 766.0L219.9 760.0L219.2 752.0Z" fill="#fff" stroke="none"/>
<path d="M349.3 703.0L353.0 704.3L356.8 706.6L357.6 710.6L354.0 710.2L351.5 711.5L349.8 709.5Z" fill="#fff" stroke="none"/>
<path d="M1106.3 707.5L1108.5 711.0L1110.0 718.0L1108.2 719.5L1107.0 714.0Z" fill="#fff" stroke="none"/>
</g>
<line x1="155.83" y1="445.8" x2="2110.0" y2="445.8" stroke="#FF0000" stroke-width="4.45" stroke-dasharray="8.89 8.89"/>
<circle cx="296.0" cy="44.3" r="10.35" fill="#FDE725" stroke="#000" stroke-width="2.95"/>
<circle cx="604.0" cy="378.1" r="10.35" fill="#440154" stroke="#000" stroke-width="2.95"/>
<line x1="155.83" y1="22.9" x2="155.83" y2="765.65" stroke="#000" stroke-width="4.45"/>
<line x1="155.83" y1="765.65" x2="2110.0" y2="765.65" stroke="#000" stroke-width="4.45"/>
<g font-family="&quot;Liberation Sans&quot;, sans-serif" font-size="36.7" fill="#4D4D4D" text-anchor="end">
<line x1="144.37" y1="524.75" x2="155.83" y2="524.75" stroke="#333333" stroke-width="4.45"/>
<text x="134" y="538.35">5</text>
<line x1="144.37" y1="283.40" x2="155.83" y2="283.40" stroke="#333333" stroke-width="4.45"/>
<text x="134" y="297">10</text>
<line x1="144.37" y1="42.05" x2="155.83" y2="42.05" stroke="#333333" stroke-width="4.45"/>
<text x="134" y="55.65">15</text>
</g>
<g font-family="&quot;Liberation Sans&quot;, sans-serif" font-size="36.7" fill="#4D4D4D" text-anchor="middle">
<line x1="291" y1="765.65" x2="291" y2="777.11" stroke="#333333" stroke-width="4.45"/>
<text x="291" y="813.4">1</text>
<line x1="480" y1="765.65" x2="480" y2="777.11" stroke="#333333" stroke-width="4.45"/>
<text x="480" y="813.4">2</text>
<line x1="640" y1="765.65" x2="640" y2="777.11" stroke="#333333" stroke-width="4.45"/>
<text x="640" y="813.4">3</text>
<line x1="775.5" y1="765.65" x2="775.5" y2="777.11" stroke="#333333" stroke-width="4.45"/>
<text x="775.5" y="813.4">4</text>
<line x1="904.5" y1="765.65" x2="904.5" y2="777.11" stroke="#333333" stroke-width="4.45"/>
<text x="904.5" y="813.4">5</text>
<line x1="1020" y1="765.65" x2="1020" y2="777.11" stroke="#333333" stroke-width="4.45"/>
<text x="1020" y="813.4">6</text>
<line x1="1122.5" y1="765.65" x2="1122.5" y2="777.11" stroke="#333333" stroke-width="4.45"/>
<text x="1122.5" y="813.4">7</text>
<line x1="1220" y1="765.65" x2="1220" y2="777.11" stroke="#333333" stroke-width="4.45"/>
<text x="1220" y="813.4">8</text>
<line x1="1312.5" y1="765.65" x2="1312.5" y2="777.11" stroke="#333333" stroke-width="4.45"/>
<text x="1312.5" y="813.4">9</text>
<line x1="1396" y1="765.65" x2="1396" y2="777.11" stroke="#333333" stroke-width="4.45"/>
<text x="1396" y="813.4">10</text>
<line x1="1470.75" y1="765.65" x2="1470.75" y2="777.11" stroke="#333333" stroke-width="4.45"/>
<text x="1470.75" y="813.4">11</text>
<line x1="1525.75" y1="765.65" x2="1525.75" y2="777.11" stroke="#333333" stroke-width="4.45"/>
<text x="1525.75" y="813.4">12</text>
<line x1="1584.75" y1="765.65" x2="1584.75" y2="777.11" stroke="#333333" stroke-width="4.45"/>
<text x="1584.75" y="813.4">13</text>
<line x1="1663.75" y1="765.65" x2="1663.75" y2="777.11" stroke="#333333" stroke-width="4.45"/>
<text x="1663.75" y="813.4">14</text>
<line x1="1742.5" y1="765.65" x2="1742.5" y2="777.11" stroke="#333333" stroke-width="4.45"/>
<text x="1742.5" y="813.4">15</text>
<line x1="1814.5" y1="765.65" x2="1814.5" y2="777.11" stroke="#333333" stroke-width="4.45"/>
<text x="1814.5" y="813.4">16</text>
<line x1="1881.5" y1="765.65" x2="1881.5" y2="777.11" stroke="#333333" stroke-width="4.45"/>
<text x="1881.5" y="813.4">17</text>
<line x1="1946.75" y1="765.65" x2="1946.75" y2="777.11" stroke="#333333" stroke-width="4.45"/>
<text x="1946.75" y="813.4">18</text>
<line x1="2005" y1="765.65" x2="2005" y2="777.11" stroke="#333333" stroke-width="4.45"/>
<text x="2005" y="813.4">19</text>
<line x1="2051.75" y1="765.65" x2="2051.75" y2="777.11" stroke="#333333" stroke-width="4.45"/>
<text x="2051.75" y="813.4">20</text>
</g>
<text x="1133" y="867.5" font-family="&quot;Liberation Sans&quot;, sans-serif" font-size="45.8" fill="#000" text-anchor="middle">Chromosome</text>
<g font-family="&quot;Liberation Sans&quot;, sans-serif" fill="#000">
<text transform="translate(58.00 485.80) rotate(-90)" x="4" y="0" font-size="45.8">−</text>
<text transform="translate(58.00 441.60) rotate(-90)" x="4" y="0" font-size="45.8">log</text>
<text transform="translate(66.50 371.80) rotate(-90)" x="2" y="0" font-size="32">10</text>
<text transform="translate(58.00 331.00) rotate(-90)" x="4" y="0" font-size="45.8">P</text>
</g>
<g font-family="&quot;Liberation Sans&quot;, sans-serif" font-size="45.8" fill="#000">
<text x="2180" y="170">Signif.</text>
<text x="2180" y="219.6">genes</text>
<text x="2180" y="269.2">in locus</text>
</g>
<defs><linearGradient id="vg" x1="0" y1="1" x2="0" y2="0"><stop offset="0.000" stop-color="#440154"/><stop offset="0.025" stop-color="#450E5A"/><stop offset="0.050" stop-color="#451860"/><stop offset="0.075" stop-color="#462067"/><stop offset="0.100" stop-color="#46286D"/><stop offset="0.125" stop-color="#452F73"/><stop offset="0.150" stop-color="#44367A"/><stop offset="0.175" stop-color="#433D80"/><stop offset="0.200" stop-color="#414487"/><stop offset="0.225" stop-color="#404B88"/><stop offset="0.250" stop-color="#3F5189"/><stop offset="0.275" stop-color="#3D588A"/><stop offset="0.300" stop-color="#3B5E8B"/><stop offset="0.325" stop-color="#38658C"/><stop offset="0.350" stop-color="#346B8C"/><stop offset="0.375" stop-color="#30728D"/><stop offset="0.400" stop-color="#2A788E"/><stop offset="0.425" stop-color="#2B7E8D"/><stop offset="0.450" stop-color="#2C848C"/><stop offset="0.475" stop-color="#2C8A8B"/><stop offset="0.500" stop-color="#2B9089"/><stop offset="0.525" stop-color="#2A9688"/><stop offset="0.550" stop-color="#289C87"/><stop offset="0.575" stop-color="#26A285"/><stop offset="0.600" stop-color="#22A884"/><stop offset="0.625" stop-color="#36AD7F"/><stop offset="0.650" stop-color="#44B279"/><stop offset="0.675" stop-color="#50B773"/><stop offset="0.700" stop-color="#5ABC6D"/><stop offset="0.725" stop-color="#63C167"/><stop offset="0.750" stop-color="#6BC760"/><stop offset="0.775" stop-color="#73CC59"/><stop offset="0.800" stop-color="#7AD151"/><stop offset="0.825" stop-color="#8DD44D"/><stop offset="0.850" stop-color="#9FD749"/><stop offset="0.875" stop-color="#B0DA45"/><stop offset="0.900" stop-color="#C0DD40"/><stop offset="0.925" stop-color="#D0E03A"/><stop offset="0.950" stop-color="#DFE234"/><stop offset="0.975" stop-color="#EEE52D"/><stop offset="1.000" stop-color="#FDE725"/></linearGradient></defs>
<rect x="2178.3" y="297.3" width="42.0" height="359.7" fill="url(#vg)"/>
<g font-family="&quot;Liberation Sans&quot;, sans-serif" font-size="36.7" fill="#000">
<line x1="2178.3" y1="657.00" x2="2193.00" y2="657.00" stroke="#fff" stroke-width="1.56"/>
<line x1="2205.60" y1="657.00" x2="2220.3" y2="657.00" stroke="#fff" stroke-width="1.56"/>
<text x="2244" y="670.37">1</text>
<line x1="2178.3" y1="498.12" x2="2193.00" y2="498.12" stroke="#fff" stroke-width="1.56"/>
<line x1="2205.60" y1="498.12" x2="2220.3" y2="498.12" stroke="#fff" stroke-width="1.56"/>
<text x="2244" y="511.5">3</text>
<line x1="2178.3" y1="324.00" x2="2193.00" y2="324.00" stroke="#fff" stroke-width="1.56"/>
<line x1="2205.60" y1="324.00" x2="2220.3" y2="324.00" stroke="#fff" stroke-width="1.56"/>
<text x="2244" y="337.37">10</text>
</g></svg>
</body></html>
